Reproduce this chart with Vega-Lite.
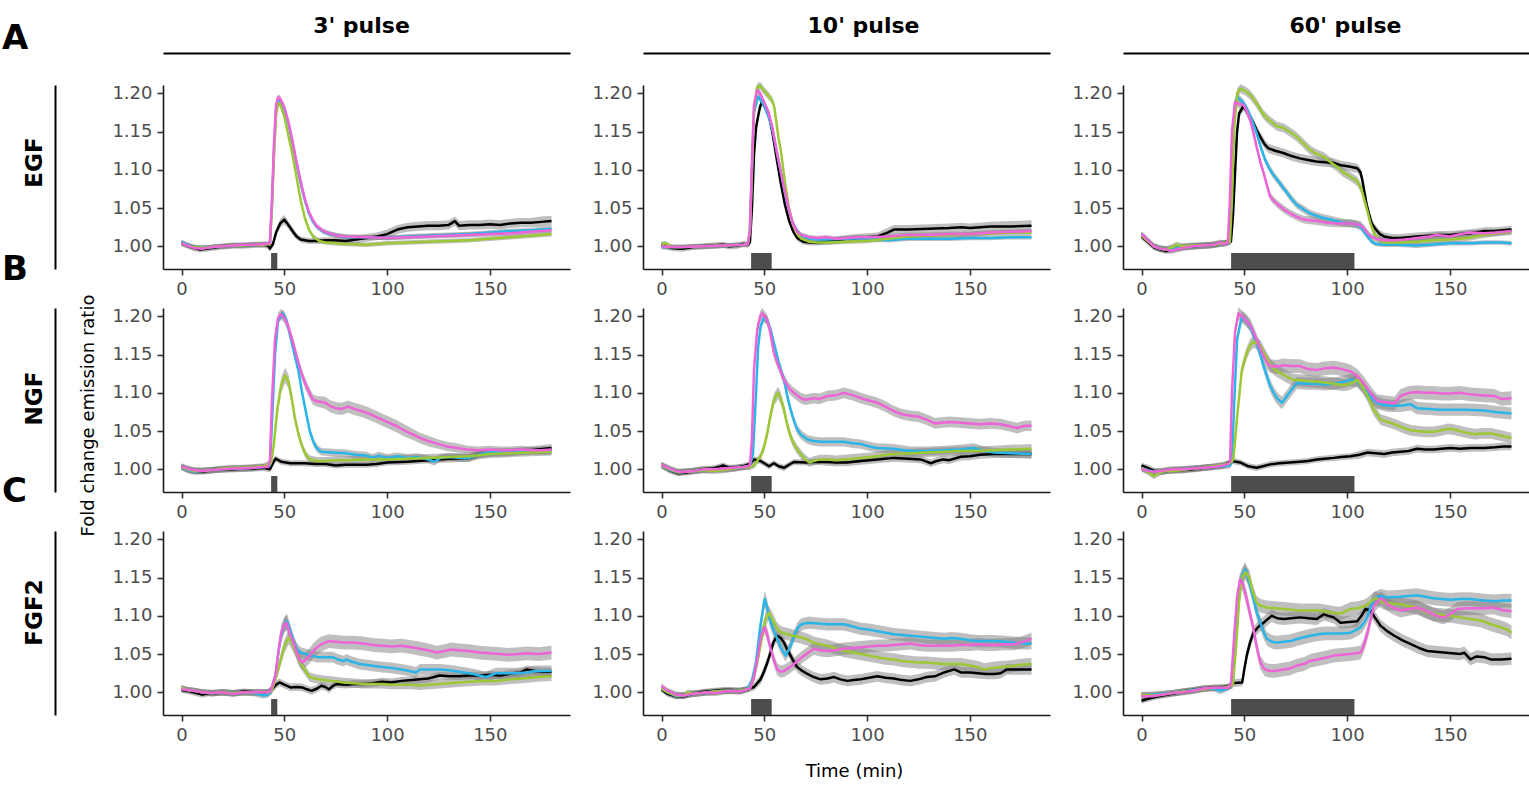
{
"$schema":"https://vega.github.io/schema/vega-lite/v6.json",
"padding":{"left":2,"top":14,"right":0,"bottom":0},
"config":{"view":{"stroke":null},"font":"DejaVu Sans",
"axis":{"domainColor":"#1a1a1a","domainWidth":1.6,"tickColor":"#333333","tickWidth":1.6,"tickSize":6,"labelFont":"DejaVu Sans","labelFontSize":18,"labelColor":"#4d4d4d","labelPadding":5,"titleFont":"DejaVu Sans","titleFontSize":18,"titleFontWeight":"normal","titleColor":"#000000","grid":false},
"title":{"font":"DejaVu Sans","fontSize":34,"fontWeight":"bold","anchor":"start","frame":"group","color":"#000000"}},
"datasets":{
"E3":[
{"s":"bk","t":0,"v":1.004,"e":0.004},{"s":"bk","t":3,"v":1.001,"e":0.004},{"s":"bk","t":6,"v":0.998,"e":0.004},{"s":"bk","t":9,"v":0.996,"e":0.004},{"s":"bk","t":12,"v":0.997,"e":0.004},{"s":"bk","t":15,"v":0.998,"e":0.004},{"s":"bk","t":20,"v":1.0,"e":0.004},{"s":"bk","t":25,"v":1.001,"e":0.004},{"s":"bk","t":30,"v":1.001,"e":0.004},{"s":"bk","t":35,"v":1.002,"e":0.004},{"s":"bk","t":40,"v":1.002,"e":0.004},{"s":"bk","t":42,"v":1.001,"e":0.004},{"s":"bk","t":43,"v":0.997,"e":0.004},{"s":"bk","t":44.5,"v":1.003,"e":0.004},{"s":"bk","t":46,"v":1.018,"e":0.005},{"s":"bk","t":48,"v":1.03,"e":0.006},{"s":"bk","t":50,"v":1.035,"e":0.006},{"s":"bk","t":52,"v":1.028,"e":0.005},{"s":"bk","t":54,"v":1.02,"e":0.005},{"s":"bk","t":56,"v":1.013,"e":0.004},{"s":"bk","t":58,"v":1.009,"e":0.004},{"s":"bk","t":62,"v":1.007,"e":0.004},{"s":"bk","t":66,"v":1.007,"e":0.004},{"s":"bk","t":70,"v":1.008,"e":0.004},{"s":"bk","t":75,"v":1.008,"e":0.004},{"s":"bk","t":80,"v":1.007,"e":0.005},{"s":"bk","t":85,"v":1.009,"e":0.005},{"s":"bk","t":90,"v":1.011,"e":0.005},{"s":"bk","t":95,"v":1.013,"e":0.005},{"s":"bk","t":100,"v":1.016,"e":0.006},{"s":"bk","t":105,"v":1.022,"e":0.006},{"s":"bk","t":110,"v":1.025,"e":0.006},{"s":"bk","t":115,"v":1.026,"e":0.006},{"s":"bk","t":120,"v":1.027,"e":0.006},{"s":"bk","t":125,"v":1.027,"e":0.006},{"s":"bk","t":130,"v":1.028,"e":0.006},{"s":"bk","t":133,"v":1.033,"e":0.006},{"s":"bk","t":135,"v":1.027,"e":0.006},{"s":"bk","t":140,"v":1.028,"e":0.006},{"s":"bk","t":145,"v":1.028,"e":0.006},{"s":"bk","t":150,"v":1.029,"e":0.006},{"s":"bk","t":155,"v":1.028,"e":0.006},{"s":"bk","t":160,"v":1.03,"e":0.006},{"s":"bk","t":165,"v":1.031,"e":0.006},{"s":"bk","t":170,"v":1.031,"e":0.006},{"s":"bk","t":175,"v":1.032,"e":0.007},{"s":"bk","t":180,"v":1.033,"e":0.007},
{"s":"cy","t":0,"v":1.006,"e":0.003},{"s":"cy","t":3,"v":1.002,"e":0.003},{"s":"cy","t":6,"v":0.999,"e":0.003},{"s":"cy","t":10,"v":0.998,"e":0.003},{"s":"cy","t":15,"v":0.999,"e":0.003},{"s":"cy","t":20,"v":1.0,"e":0.003},{"s":"cy","t":25,"v":1.001,"e":0.003},{"s":"cy","t":30,"v":1.001,"e":0.003},{"s":"cy","t":35,"v":1.002,"e":0.003},{"s":"cy","t":40,"v":1.003,"e":0.003},{"s":"cy","t":43,"v":1.003,"e":0.003},{"s":"cy","t":44,"v":1.055,"e":0.003},{"s":"cy","t":45,"v":1.125,"e":0.004},{"s":"cy","t":46,"v":1.178,"e":0.004},{"s":"cy","t":47,"v":1.19,"e":0.004},{"s":"cy","t":48,"v":1.189,"e":0.004},{"s":"cy","t":50,"v":1.178,"e":0.004},{"s":"cy","t":52,"v":1.16,"e":0.004},{"s":"cy","t":54,"v":1.135,"e":0.004},{"s":"cy","t":56,"v":1.107,"e":0.004},{"s":"cy","t":58,"v":1.082,"e":0.004},{"s":"cy","t":60,"v":1.06,"e":0.004},{"s":"cy","t":62,"v":1.043,"e":0.003},{"s":"cy","t":64,"v":1.032,"e":0.003},{"s":"cy","t":66,"v":1.025,"e":0.003},{"s":"cy","t":69,"v":1.019,"e":0.003},{"s":"cy","t":72,"v":1.016,"e":0.003},{"s":"cy","t":76,"v":1.014,"e":0.003},{"s":"cy","t":80,"v":1.012,"e":0.003},{"s":"cy","t":90,"v":1.012,"e":0.003},{"s":"cy","t":100,"v":1.011,"e":0.003},{"s":"cy","t":110,"v":1.013,"e":0.003},{"s":"cy","t":120,"v":1.014,"e":0.003},{"s":"cy","t":130,"v":1.015,"e":0.003},{"s":"cy","t":140,"v":1.016,"e":0.003},{"s":"cy","t":150,"v":1.018,"e":0.003},{"s":"cy","t":160,"v":1.02,"e":0.003},{"s":"cy","t":170,"v":1.021,"e":0.003},{"s":"cy","t":180,"v":1.023,"e":0.003},
{"s":"gr","t":0,"v":1.004,"e":0.003},{"s":"gr","t":3,"v":1.001,"e":0.003},{"s":"gr","t":6,"v":0.999,"e":0.003},{"s":"gr","t":10,"v":0.998,"e":0.003},{"s":"gr","t":15,"v":0.999,"e":0.003},{"s":"gr","t":20,"v":1.0,"e":0.003},{"s":"gr","t":25,"v":1.001,"e":0.003},{"s":"gr","t":30,"v":1.001,"e":0.003},{"s":"gr","t":35,"v":1.002,"e":0.003},{"s":"gr","t":40,"v":1.002,"e":0.003},{"s":"gr","t":43,"v":1.003,"e":0.003},{"s":"gr","t":44,"v":1.05,"e":0.003},{"s":"gr","t":45,"v":1.12,"e":0.004},{"s":"gr","t":46,"v":1.172,"e":0.004},{"s":"gr","t":47,"v":1.187,"e":0.004},{"s":"gr","t":48,"v":1.186,"e":0.004},{"s":"gr","t":50,"v":1.17,"e":0.004},{"s":"gr","t":52,"v":1.145,"e":0.004},{"s":"gr","t":54,"v":1.12,"e":0.004},{"s":"gr","t":56,"v":1.09,"e":0.004},{"s":"gr","t":58,"v":1.06,"e":0.004},{"s":"gr","t":60,"v":1.037,"e":0.003},{"s":"gr","t":62,"v":1.022,"e":0.003},{"s":"gr","t":64,"v":1.013,"e":0.003},{"s":"gr","t":67,"v":1.007,"e":0.003},{"s":"gr","t":70,"v":1.005,"e":0.003},{"s":"gr","t":75,"v":1.004,"e":0.003},{"s":"gr","t":80,"v":1.003,"e":0.003},{"s":"gr","t":90,"v":1.002,"e":0.003},{"s":"gr","t":100,"v":1.004,"e":0.003},{"s":"gr","t":110,"v":1.005,"e":0.003},{"s":"gr","t":120,"v":1.006,"e":0.003},{"s":"gr","t":130,"v":1.007,"e":0.003},{"s":"gr","t":140,"v":1.008,"e":0.003},{"s":"gr","t":150,"v":1.01,"e":0.003},{"s":"gr","t":160,"v":1.012,"e":0.003},{"s":"gr","t":170,"v":1.014,"e":0.003},{"s":"gr","t":180,"v":1.016,"e":0.003},
{"s":"pk","t":0,"v":1.004,"e":0.003},{"s":"pk","t":3,"v":1.001,"e":0.003},{"s":"pk","t":6,"v":0.998,"e":0.003},{"s":"pk","t":10,"v":0.997,"e":0.003},{"s":"pk","t":15,"v":0.999,"e":0.003},{"s":"pk","t":20,"v":1.0,"e":0.003},{"s":"pk","t":25,"v":1.001,"e":0.003},{"s":"pk","t":30,"v":1.002,"e":0.003},{"s":"pk","t":35,"v":1.002,"e":0.003},{"s":"pk","t":40,"v":1.003,"e":0.003},{"s":"pk","t":43,"v":1.004,"e":0.003},{"s":"pk","t":44,"v":1.06,"e":0.003},{"s":"pk","t":45,"v":1.135,"e":0.004},{"s":"pk","t":46,"v":1.185,"e":0.004},{"s":"pk","t":47,"v":1.195,"e":0.004},{"s":"pk","t":48,"v":1.193,"e":0.004},{"s":"pk","t":50,"v":1.182,"e":0.004},{"s":"pk","t":52,"v":1.163,"e":0.004},{"s":"pk","t":54,"v":1.138,"e":0.004},{"s":"pk","t":56,"v":1.11,"e":0.004},{"s":"pk","t":58,"v":1.085,"e":0.004},{"s":"pk","t":60,"v":1.062,"e":0.004},{"s":"pk","t":62,"v":1.045,"e":0.003},{"s":"pk","t":64,"v":1.034,"e":0.003},{"s":"pk","t":66,"v":1.026,"e":0.003},{"s":"pk","t":69,"v":1.02,"e":0.003},{"s":"pk","t":72,"v":1.017,"e":0.003},{"s":"pk","t":76,"v":1.014,"e":0.003},{"s":"pk","t":80,"v":1.013,"e":0.003},{"s":"pk","t":90,"v":1.012,"e":0.003},{"s":"pk","t":100,"v":1.011,"e":0.003},{"s":"pk","t":110,"v":1.012,"e":0.003},{"s":"pk","t":120,"v":1.013,"e":0.003},{"s":"pk","t":130,"v":1.014,"e":0.003},{"s":"pk","t":140,"v":1.015,"e":0.003},{"s":"pk","t":150,"v":1.016,"e":0.003},{"s":"pk","t":160,"v":1.017,"e":0.003},{"s":"pk","t":170,"v":1.019,"e":0.003},{"s":"pk","t":180,"v":1.021,"e":0.003}
],
"E10":[
{"s":"bk","t":0,"v":1.002,"e":0.004},{"s":"bk","t":5,"v":0.998,"e":0.004},{"s":"bk","t":10,"v":0.997,"e":0.004},{"s":"bk","t":15,"v":0.999,"e":0.004},{"s":"bk","t":20,"v":1.0,"e":0.004},{"s":"bk","t":25,"v":1.001,"e":0.004},{"s":"bk","t":30,"v":1.002,"e":0.004},{"s":"bk","t":33,"v":1.0,"e":0.004},{"s":"bk","t":37,"v":1.001,"e":0.004},{"s":"bk","t":40,"v":1.003,"e":0.004},{"s":"bk","t":42,"v":1.002,"e":0.004},{"s":"bk","t":43,"v":1.005,"e":0.004},{"s":"bk","t":44,"v":1.05,"e":0.004},{"s":"bk","t":45,"v":1.12,"e":0.005},{"s":"bk","t":46,"v":1.155,"e":0.005},{"s":"bk","t":47,"v":1.17,"e":0.005},{"s":"bk","t":48,"v":1.183,"e":0.005},{"s":"bk","t":49,"v":1.189,"e":0.005},{"s":"bk","t":50,"v":1.186,"e":0.005},{"s":"bk","t":52,"v":1.175,"e":0.005},{"s":"bk","t":54,"v":1.148,"e":0.005},{"s":"bk","t":56,"v":1.115,"e":0.005},{"s":"bk","t":58,"v":1.083,"e":0.005},{"s":"bk","t":60,"v":1.055,"e":0.005},{"s":"bk","t":62,"v":1.034,"e":0.004},{"s":"bk","t":64,"v":1.02,"e":0.004},{"s":"bk","t":66,"v":1.011,"e":0.004},{"s":"bk","t":69,"v":1.006,"e":0.004},{"s":"bk","t":72,"v":1.005,"e":0.004},{"s":"bk","t":76,"v":1.005,"e":0.004},{"s":"bk","t":80,"v":1.006,"e":0.004},{"s":"bk","t":85,"v":1.008,"e":0.005},{"s":"bk","t":90,"v":1.01,"e":0.005},{"s":"bk","t":95,"v":1.011,"e":0.005},{"s":"bk","t":100,"v":1.012,"e":0.005},{"s":"bk","t":105,"v":1.013,"e":0.005},{"s":"bk","t":110,"v":1.018,"e":0.006},{"s":"bk","t":113,"v":1.022,"e":0.006},{"s":"bk","t":120,"v":1.022,"e":0.006},{"s":"bk","t":130,"v":1.023,"e":0.006},{"s":"bk","t":140,"v":1.024,"e":0.006},{"s":"bk","t":146,"v":1.025,"e":0.006},{"s":"bk","t":150,"v":1.024,"e":0.006},{"s":"bk","t":160,"v":1.026,"e":0.006},{"s":"bk","t":170,"v":1.026,"e":0.007},{"s":"bk","t":180,"v":1.027,"e":0.007},
{"s":"cy","t":0,"v":0.999,"e":0.003},{"s":"cy","t":5,"v":0.999,"e":0.003},{"s":"cy","t":10,"v":0.999,"e":0.003},{"s":"cy","t":20,"v":1.0,"e":0.003},{"s":"cy","t":30,"v":1.001,"e":0.003},{"s":"cy","t":40,"v":1.002,"e":0.003},{"s":"cy","t":42,"v":1.003,"e":0.003},{"s":"cy","t":43,"v":1.02,"e":0.004},{"s":"cy","t":44,"v":1.1,"e":0.004},{"s":"cy","t":45,"v":1.175,"e":0.004},{"s":"cy","t":47,"v":1.196,"e":0.004},{"s":"cy","t":48.5,"v":1.19,"e":0.004},{"s":"cy","t":50,"v":1.183,"e":0.004},{"s":"cy","t":52,"v":1.17,"e":0.004},{"s":"cy","t":54,"v":1.152,"e":0.004},{"s":"cy","t":56,"v":1.125,"e":0.004},{"s":"cy","t":58,"v":1.098,"e":0.004},{"s":"cy","t":60,"v":1.07,"e":0.004},{"s":"cy","t":62,"v":1.047,"e":0.004},{"s":"cy","t":64,"v":1.03,"e":0.004},{"s":"cy","t":66,"v":1.02,"e":0.004},{"s":"cy","t":68,"v":1.014,"e":0.003},{"s":"cy","t":72,"v":1.01,"e":0.003},{"s":"cy","t":76,"v":1.009,"e":0.003},{"s":"cy","t":80,"v":1.009,"e":0.003},{"s":"cy","t":90,"v":1.01,"e":0.003},{"s":"cy","t":100,"v":1.011,"e":0.003},{"s":"cy","t":105,"v":1.009,"e":0.003},{"s":"cy","t":110,"v":1.008,"e":0.003},{"s":"cy","t":120,"v":1.01,"e":0.003},{"s":"cy","t":130,"v":1.01,"e":0.003},{"s":"cy","t":140,"v":1.01,"e":0.003},{"s":"cy","t":150,"v":1.011,"e":0.003},{"s":"cy","t":160,"v":1.011,"e":0.003},{"s":"cy","t":170,"v":1.012,"e":0.003},{"s":"cy","t":180,"v":1.012,"e":0.003},
{"s":"gr","t":0,"v":1.003,"e":0.003},{"s":"gr","t":2,"v":1.004,"e":0.003},{"s":"gr","t":5,"v":0.999,"e":0.003},{"s":"gr","t":10,"v":0.999,"e":0.003},{"s":"gr","t":20,"v":1.0,"e":0.003},{"s":"gr","t":30,"v":1.001,"e":0.003},{"s":"gr","t":40,"v":1.002,"e":0.003},{"s":"gr","t":42,"v":1.003,"e":0.003},{"s":"gr","t":43,"v":1.02,"e":0.004},{"s":"gr","t":44,"v":1.1,"e":0.004},{"s":"gr","t":45,"v":1.18,"e":0.005},{"s":"gr","t":46.5,"v":1.208,"e":0.005},{"s":"gr","t":48,"v":1.21,"e":0.005},{"s":"gr","t":50,"v":1.203,"e":0.005},{"s":"gr","t":52,"v":1.197,"e":0.005},{"s":"gr","t":54,"v":1.19,"e":0.005},{"s":"gr","t":55,"v":1.18,"e":0.005},{"s":"gr","t":56,"v":1.16,"e":0.005},{"s":"gr","t":57,"v":1.14,"e":0.005},{"s":"gr","t":58,"v":1.126,"e":0.005},{"s":"gr","t":60,"v":1.085,"e":0.005},{"s":"gr","t":62,"v":1.05,"e":0.004},{"s":"gr","t":64,"v":1.028,"e":0.004},{"s":"gr","t":66,"v":1.016,"e":0.004},{"s":"gr","t":68,"v":1.01,"e":0.003},{"s":"gr","t":72,"v":1.006,"e":0.003},{"s":"gr","t":76,"v":1.005,"e":0.003},{"s":"gr","t":80,"v":1.005,"e":0.003},{"s":"gr","t":90,"v":1.006,"e":0.003},{"s":"gr","t":100,"v":1.007,"e":0.003},{"s":"gr","t":110,"v":1.01,"e":0.003},{"s":"gr","t":120,"v":1.013,"e":0.003},{"s":"gr","t":130,"v":1.014,"e":0.003},{"s":"gr","t":140,"v":1.015,"e":0.003},{"s":"gr","t":150,"v":1.016,"e":0.003},{"s":"gr","t":160,"v":1.017,"e":0.003},{"s":"gr","t":170,"v":1.018,"e":0.003},{"s":"gr","t":180,"v":1.018,"e":0.003},
{"s":"pk","t":0,"v":1.0,"e":0.003},{"s":"pk","t":5,"v":0.999,"e":0.003},{"s":"pk","t":10,"v":0.999,"e":0.003},{"s":"pk","t":20,"v":1.0,"e":0.003},{"s":"pk","t":30,"v":1.001,"e":0.003},{"s":"pk","t":40,"v":1.002,"e":0.003},{"s":"pk","t":42,"v":1.003,"e":0.003},{"s":"pk","t":43,"v":1.02,"e":0.004},{"s":"pk","t":44,"v":1.11,"e":0.004},{"s":"pk","t":45,"v":1.185,"e":0.004},{"s":"pk","t":46.5,"v":1.204,"e":0.004},{"s":"pk","t":48,"v":1.2,"e":0.004},{"s":"pk","t":50,"v":1.188,"e":0.004},{"s":"pk","t":52,"v":1.175,"e":0.004},{"s":"pk","t":54,"v":1.155,"e":0.004},{"s":"pk","t":56,"v":1.125,"e":0.004},{"s":"pk","t":58,"v":1.098,"e":0.004},{"s":"pk","t":60,"v":1.072,"e":0.004},{"s":"pk","t":62,"v":1.048,"e":0.004},{"s":"pk","t":64,"v":1.029,"e":0.004},{"s":"pk","t":66,"v":1.019,"e":0.004},{"s":"pk","t":68,"v":1.015,"e":0.003},{"s":"pk","t":72,"v":1.012,"e":0.003},{"s":"pk","t":76,"v":1.011,"e":0.003},{"s":"pk","t":80,"v":1.012,"e":0.003},{"s":"pk","t":85,"v":1.01,"e":0.003},{"s":"pk","t":90,"v":1.011,"e":0.003},{"s":"pk","t":95,"v":1.012,"e":0.003},{"s":"pk","t":100,"v":1.012,"e":0.003},{"s":"pk","t":110,"v":1.013,"e":0.003},{"s":"pk","t":120,"v":1.015,"e":0.003},{"s":"pk","t":130,"v":1.015,"e":0.003},{"s":"pk","t":140,"v":1.016,"e":0.003},{"s":"pk","t":150,"v":1.016,"e":0.003},{"s":"pk","t":160,"v":1.018,"e":0.003},{"s":"pk","t":170,"v":1.019,"e":0.003},{"s":"pk","t":180,"v":1.02,"e":0.003}
],
"E60":[
{"s":"bk","t":0,"v":1.013,"e":0.004},{"s":"bk","t":3,"v":1.006,"e":0.004},{"s":"bk","t":6,"v":0.999,"e":0.004},{"s":"bk","t":9,"v":0.996,"e":0.004},{"s":"bk","t":12,"v":0.994,"e":0.004},{"s":"bk","t":15,"v":0.996,"e":0.004},{"s":"bk","t":20,"v":0.999,"e":0.004},{"s":"bk","t":25,"v":1.0,"e":0.004},{"s":"bk","t":30,"v":1.001,"e":0.004},{"s":"bk","t":35,"v":1.002,"e":0.004},{"s":"bk","t":40,"v":1.004,"e":0.004},{"s":"bk","t":43.5,"v":1.006,"e":0.004},{"s":"bk","t":44.5,"v":1.04,"e":0.005},{"s":"bk","t":45.5,"v":1.096,"e":0.006},{"s":"bk","t":46.5,"v":1.15,"e":0.006},{"s":"bk","t":47.5,"v":1.174,"e":0.006},{"s":"bk","t":49.6,"v":1.183,"e":0.006},{"s":"bk","t":51,"v":1.178,"e":0.006},{"s":"bk","t":52.5,"v":1.17,"e":0.006},{"s":"bk","t":54.5,"v":1.161,"e":0.006},{"s":"bk","t":56,"v":1.152,"e":0.006},{"s":"bk","t":57.8,"v":1.143,"e":0.006},{"s":"bk","t":60,"v":1.133,"e":0.006},{"s":"bk","t":61.8,"v":1.128,"e":0.006},{"s":"bk","t":65,"v":1.125,"e":0.006},{"s":"bk","t":69,"v":1.122,"e":0.006},{"s":"bk","t":73,"v":1.118,"e":0.006},{"s":"bk","t":77,"v":1.115,"e":0.006},{"s":"bk","t":81,"v":1.113,"e":0.006},{"s":"bk","t":85,"v":1.111,"e":0.006},{"s":"bk","t":89,"v":1.11,"e":0.006},{"s":"bk","t":93.5,"v":1.109,"e":0.006},{"s":"bk","t":97,"v":1.106,"e":0.006},{"s":"bk","t":101.7,"v":1.104,"e":0.006},{"s":"bk","t":105,"v":1.102,"e":0.006},{"s":"bk","t":106.5,"v":1.097,"e":0.006},{"s":"bk","t":107.4,"v":1.087,"e":0.006},{"s":"bk","t":108.5,"v":1.07,"e":0.006},{"s":"bk","t":109.5,"v":1.055,"e":0.006},{"s":"bk","t":110.6,"v":1.043,"e":0.006},{"s":"bk","t":112,"v":1.03,"e":0.005},{"s":"bk","t":114,"v":1.022,"e":0.005},{"s":"bk","t":116,"v":1.016,"e":0.005},{"s":"bk","t":118,"v":1.013,"e":0.005},{"s":"bk","t":122,"v":1.011,"e":0.005},{"s":"bk","t":126,"v":1.011,"e":0.005},{"s":"bk","t":130,"v":1.012,"e":0.005},{"s":"bk","t":134,"v":1.013,"e":0.005},{"s":"bk","t":140,"v":1.014,"e":0.005},{"s":"bk","t":145,"v":1.015,"e":0.005},{"s":"bk","t":150,"v":1.015,"e":0.005},{"s":"bk","t":155,"v":1.016,"e":0.005},{"s":"bk","t":160,"v":1.017,"e":0.005},{"s":"bk","t":166.7,"v":1.02,"e":0.005},{"s":"bk","t":172,"v":1.02,"e":0.005},{"s":"bk","t":180,"v":1.022,"e":0.005},
{"s":"cy","t":0,"v":1.015,"e":0.004},{"s":"cy","t":3,"v":1.008,"e":0.004},{"s":"cy","t":6,"v":1.0,"e":0.004},{"s":"cy","t":9,"v":0.997,"e":0.004},{"s":"cy","t":12,"v":0.996,"e":0.004},{"s":"cy","t":15,"v":0.997,"e":0.004},{"s":"cy","t":20,"v":0.999,"e":0.004},{"s":"cy","t":25,"v":1.0,"e":0.004},{"s":"cy","t":30,"v":1.001,"e":0.004},{"s":"cy","t":35,"v":1.002,"e":0.004},{"s":"cy","t":40,"v":1.004,"e":0.004},{"s":"cy","t":42.5,"v":1.005,"e":0.004},{"s":"cy","t":43.5,"v":1.05,"e":0.004},{"s":"cy","t":44.5,"v":1.14,"e":0.005},{"s":"cy","t":45.5,"v":1.185,"e":0.005},{"s":"cy","t":46.4,"v":1.196,"e":0.005},{"s":"cy","t":48,"v":1.192,"e":0.005},{"s":"cy","t":50,"v":1.186,"e":0.005},{"s":"cy","t":52,"v":1.176,"e":0.005},{"s":"cy","t":54,"v":1.163,"e":0.005},{"s":"cy","t":56,"v":1.148,"e":0.005},{"s":"cy","t":58,"v":1.13,"e":0.005},{"s":"cy","t":60,"v":1.114,"e":0.005},{"s":"cy","t":62,"v":1.103,"e":0.005},{"s":"cy","t":64,"v":1.094,"e":0.005},{"s":"cy","t":66,"v":1.087,"e":0.005},{"s":"cy","t":68,"v":1.08,"e":0.005},{"s":"cy","t":70.8,"v":1.07,"e":0.005},{"s":"cy","t":73,"v":1.062,"e":0.005},{"s":"cy","t":75.6,"v":1.054,"e":0.005},{"s":"cy","t":79,"v":1.048,"e":0.005},{"s":"cy","t":82,"v":1.043,"e":0.005},{"s":"cy","t":85,"v":1.04,"e":0.005},{"s":"cy","t":88.7,"v":1.037,"e":0.005},{"s":"cy","t":92,"v":1.035,"e":0.005},{"s":"cy","t":95,"v":1.033,"e":0.005},{"s":"cy","t":98,"v":1.031,"e":0.005},{"s":"cy","t":101.7,"v":1.03,"e":0.005},{"s":"cy","t":104,"v":1.029,"e":0.005},{"s":"cy","t":106.5,"v":1.026,"e":0.005},{"s":"cy","t":108,"v":1.02,"e":0.004},{"s":"cy","t":110,"v":1.013,"e":0.004},{"s":"cy","t":112,"v":1.006,"e":0.003},{"s":"cy","t":114,"v":1.003,"e":0.003},{"s":"cy","t":118,"v":1.002,"e":0.003},{"s":"cy","t":125,"v":1.002,"e":0.003},{"s":"cy","t":134,"v":1.001,"e":0.003},{"s":"cy","t":140,"v":1.002,"e":0.003},{"s":"cy","t":150,"v":1.004,"e":0.003},{"s":"cy","t":160,"v":1.004,"e":0.003},{"s":"cy","t":166.7,"v":1.005,"e":0.003},{"s":"cy","t":175,"v":1.005,"e":0.003},{"s":"cy","t":180,"v":1.004,"e":0.003},
{"s":"gr","t":0,"v":1.014,"e":0.004},{"s":"gr","t":3,"v":1.007,"e":0.004},{"s":"gr","t":6,"v":1.0,"e":0.004},{"s":"gr","t":9,"v":0.997,"e":0.004},{"s":"gr","t":12,"v":0.996,"e":0.004},{"s":"gr","t":15,"v":0.999,"e":0.004},{"s":"gr","t":17,"v":1.002,"e":0.004},{"s":"gr","t":20,"v":1.0,"e":0.004},{"s":"gr","t":25,"v":1.001,"e":0.004},{"s":"gr","t":30,"v":1.001,"e":0.004},{"s":"gr","t":35,"v":1.002,"e":0.004},{"s":"gr","t":40,"v":1.004,"e":0.004},{"s":"gr","t":43,"v":1.006,"e":0.004},{"s":"gr","t":44,"v":1.06,"e":0.005},{"s":"gr","t":45,"v":1.15,"e":0.006},{"s":"gr","t":46.5,"v":1.2,"e":0.006},{"s":"gr","t":48,"v":1.206,"e":0.006},{"s":"gr","t":50,"v":1.204,"e":0.006},{"s":"gr","t":52.9,"v":1.198,"e":0.006},{"s":"gr","t":56,"v":1.187,"e":0.006},{"s":"gr","t":59.4,"v":1.172,"e":0.006},{"s":"gr","t":62,"v":1.165,"e":0.006},{"s":"gr","t":65.9,"v":1.157,"e":0.006},{"s":"gr","t":69,"v":1.155,"e":0.006},{"s":"gr","t":72,"v":1.15,"e":0.006},{"s":"gr","t":75.6,"v":1.143,"e":0.006},{"s":"gr","t":79,"v":1.134,"e":0.006},{"s":"gr","t":82,"v":1.126,"e":0.006},{"s":"gr","t":85,"v":1.121,"e":0.006},{"s":"gr","t":88.7,"v":1.117,"e":0.006},{"s":"gr","t":92,"v":1.11,"e":0.006},{"s":"gr","t":95.2,"v":1.104,"e":0.006},{"s":"gr","t":98,"v":1.097,"e":0.006},{"s":"gr","t":101.7,"v":1.091,"e":0.006},{"s":"gr","t":105,"v":1.085,"e":0.006},{"s":"gr","t":107,"v":1.075,"e":0.006},{"s":"gr","t":108,"v":1.065,"e":0.006},{"s":"gr","t":110,"v":1.045,"e":0.006},{"s":"gr","t":111.4,"v":1.03,"e":0.005},{"s":"gr","t":113,"v":1.018,"e":0.005},{"s":"gr","t":114.7,"v":1.011,"e":0.004},{"s":"gr","t":118,"v":1.005,"e":0.004},{"s":"gr","t":125,"v":1.005,"e":0.004},{"s":"gr","t":134,"v":1.006,"e":0.004},{"s":"gr","t":142,"v":1.008,"e":0.004},{"s":"gr","t":150,"v":1.009,"e":0.004},{"s":"gr","t":158.6,"v":1.011,"e":0.004},{"s":"gr","t":166.7,"v":1.015,"e":0.004},{"s":"gr","t":172,"v":1.017,"e":0.004},{"s":"gr","t":180,"v":1.019,"e":0.004},
{"s":"pk","t":0,"v":1.016,"e":0.004},{"s":"pk","t":3,"v":1.008,"e":0.004},{"s":"pk","t":6,"v":1.0,"e":0.004},{"s":"pk","t":9,"v":0.997,"e":0.004},{"s":"pk","t":12,"v":0.996,"e":0.004},{"s":"pk","t":14,"v":0.994,"e":0.004},{"s":"pk","t":17,"v":0.996,"e":0.004},{"s":"pk","t":20,"v":0.998,"e":0.004},{"s":"pk","t":25,"v":1.0,"e":0.004},{"s":"pk","t":30,"v":1.001,"e":0.004},{"s":"pk","t":35,"v":1.002,"e":0.004},{"s":"pk","t":38,"v":1.005,"e":0.004},{"s":"pk","t":40,"v":1.003,"e":0.004},{"s":"pk","t":42,"v":1.005,"e":0.004},{"s":"pk","t":43,"v":1.06,"e":0.005},{"s":"pk","t":44,"v":1.15,"e":0.005},{"s":"pk","t":45.5,"v":1.189,"e":0.005},{"s":"pk","t":47,"v":1.186,"e":0.005},{"s":"pk","t":49.6,"v":1.185,"e":0.005},{"s":"pk","t":51,"v":1.178,"e":0.005},{"s":"pk","t":52.9,"v":1.165,"e":0.005},{"s":"pk","t":54.5,"v":1.148,"e":0.005},{"s":"pk","t":56,"v":1.13,"e":0.005},{"s":"pk","t":58,"v":1.108,"e":0.005},{"s":"pk","t":59.4,"v":1.096,"e":0.005},{"s":"pk","t":61,"v":1.08,"e":0.005},{"s":"pk","t":62.6,"v":1.065,"e":0.005},{"s":"pk","t":65,"v":1.058,"e":0.005},{"s":"pk","t":67.5,"v":1.052,"e":0.005},{"s":"pk","t":70,"v":1.047,"e":0.005},{"s":"pk","t":72.4,"v":1.043,"e":0.005},{"s":"pk","t":76,"v":1.038,"e":0.005},{"s":"pk","t":79,"v":1.035,"e":0.005},{"s":"pk","t":85.4,"v":1.033,"e":0.005},{"s":"pk","t":90,"v":1.031,"e":0.005},{"s":"pk","t":95,"v":1.03,"e":0.005},{"s":"pk","t":101.7,"v":1.03,"e":0.005},{"s":"pk","t":106.5,"v":1.028,"e":0.005},{"s":"pk","t":108,"v":1.024,"e":0.005},{"s":"pk","t":110,"v":1.017,"e":0.005},{"s":"pk","t":112,"v":1.012,"e":0.004},{"s":"pk","t":114.7,"v":1.0096,"e":0.004},{"s":"pk","t":118,"v":1.008,"e":0.004},{"s":"pk","t":123,"v":1.008,"e":0.004},{"s":"pk","t":128,"v":1.009,"e":0.004},{"s":"pk","t":134,"v":1.011,"e":0.004},{"s":"pk","t":140,"v":1.013,"e":0.004},{"s":"pk","t":144,"v":1.015,"e":0.004},{"s":"pk","t":150,"v":1.013,"e":0.004},{"s":"pk","t":155,"v":1.016,"e":0.004},{"s":"pk","t":160,"v":1.018,"e":0.004},{"s":"pk","t":166.7,"v":1.017,"e":0.004},{"s":"pk","t":172,"v":1.018,"e":0.004},{"s":"pk","t":180,"v":1.02,"e":0.004}
],
"N3":[
{"s":"bk","t":0,"v":1.003,"e":0.004},{"s":"bk","t":3,"v":1.0,"e":0.004},{"s":"bk","t":6,"v":0.998,"e":0.004},{"s":"bk","t":10,"v":0.997,"e":0.004},{"s":"bk","t":15,"v":0.999,"e":0.004},{"s":"bk","t":20,"v":1.0,"e":0.004},{"s":"bk","t":25,"v":1.0,"e":0.004},{"s":"bk","t":30,"v":1.001,"e":0.004},{"s":"bk","t":35,"v":1.001,"e":0.004},{"s":"bk","t":40,"v":1.002,"e":0.004},{"s":"bk","t":43,"v":1.0,"e":0.004},{"s":"bk","t":44.5,"v":1.008,"e":0.004},{"s":"bk","t":45.7,"v":1.014,"e":0.004},{"s":"bk","t":48.5,"v":1.01,"e":0.004},{"s":"bk","t":53,"v":1.008,"e":0.004},{"s":"bk","t":60,"v":1.008,"e":0.004},{"s":"bk","t":65,"v":1.007,"e":0.004},{"s":"bk","t":70,"v":1.007,"e":0.004},{"s":"bk","t":75,"v":1.005,"e":0.004},{"s":"bk","t":80,"v":1.006,"e":0.004},{"s":"bk","t":85,"v":1.006,"e":0.004},{"s":"bk","t":90,"v":1.006,"e":0.004},{"s":"bk","t":95,"v":1.007,"e":0.004},{"s":"bk","t":100,"v":1.009,"e":0.004},{"s":"bk","t":110,"v":1.01,"e":0.004},{"s":"bk","t":120,"v":1.012,"e":0.004},{"s":"bk","t":130,"v":1.014,"e":0.005},{"s":"bk","t":140,"v":1.015,"e":0.005},{"s":"bk","t":145,"v":1.02,"e":0.005},{"s":"bk","t":150,"v":1.021,"e":0.005},{"s":"bk","t":160,"v":1.022,"e":0.005},{"s":"bk","t":170,"v":1.025,"e":0.005},{"s":"bk","t":180,"v":1.028,"e":0.005},
{"s":"cy","t":0,"v":1.003,"e":0.004},{"s":"cy","t":3,"v":0.999,"e":0.004},{"s":"cy","t":6,"v":0.997,"e":0.004},{"s":"cy","t":10,"v":0.998,"e":0.004},{"s":"cy","t":15,"v":0.999,"e":0.004},{"s":"cy","t":20,"v":1.0,"e":0.004},{"s":"cy","t":25,"v":1.001,"e":0.004},{"s":"cy","t":30,"v":1.001,"e":0.004},{"s":"cy","t":35,"v":1.002,"e":0.004},{"s":"cy","t":40,"v":1.003,"e":0.004},{"s":"cy","t":43,"v":1.005,"e":0.004},{"s":"cy","t":44,"v":1.06,"e":0.005},{"s":"cy","t":45.5,"v":1.15,"e":0.005},{"s":"cy","t":47,"v":1.195,"e":0.005},{"s":"cy","t":49.4,"v":1.204,"e":0.005},{"s":"cy","t":51,"v":1.195,"e":0.005},{"s":"cy","t":53,"v":1.173,"e":0.005},{"s":"cy","t":55,"v":1.15,"e":0.005},{"s":"cy","t":56.8,"v":1.13,"e":0.005},{"s":"cy","t":58.7,"v":1.1,"e":0.005},{"s":"cy","t":60.6,"v":1.074,"e":0.005},{"s":"cy","t":62.4,"v":1.05,"e":0.005},{"s":"cy","t":64.3,"v":1.035,"e":0.005},{"s":"cy","t":66,"v":1.027,"e":0.005},{"s":"cy","t":68,"v":1.023,"e":0.005},{"s":"cy","t":73.6,"v":1.022,"e":0.005},{"s":"cy","t":80,"v":1.021,"e":0.005},{"s":"cy","t":85,"v":1.019,"e":0.005},{"s":"cy","t":90,"v":1.018,"e":0.005},{"s":"cy","t":93,"v":1.015,"e":0.005},{"s":"cy","t":96,"v":1.018,"e":0.005},{"s":"cy","t":100,"v":1.015,"e":0.005},{"s":"cy","t":105,"v":1.017,"e":0.005},{"s":"cy","t":110,"v":1.015,"e":0.005},{"s":"cy","t":115,"v":1.016,"e":0.005},{"s":"cy","t":120,"v":1.013,"e":0.005},{"s":"cy","t":123,"v":1.01,"e":0.005},{"s":"cy","t":126,"v":1.015,"e":0.005},{"s":"cy","t":130,"v":1.016,"e":0.005},{"s":"cy","t":135,"v":1.015,"e":0.005},{"s":"cy","t":140,"v":1.015,"e":0.005},{"s":"cy","t":145,"v":1.02,"e":0.005},{"s":"cy","t":150,"v":1.022,"e":0.005},{"s":"cy","t":155,"v":1.023,"e":0.005},{"s":"cy","t":160,"v":1.023,"e":0.005},{"s":"cy","t":170,"v":1.024,"e":0.005},{"s":"cy","t":180,"v":1.024,"e":0.005},
{"s":"gr","t":0,"v":1.003,"e":0.004},{"s":"gr","t":3,"v":1.0,"e":0.004},{"s":"gr","t":6,"v":0.998,"e":0.004},{"s":"gr","t":10,"v":0.998,"e":0.004},{"s":"gr","t":15,"v":0.999,"e":0.004},{"s":"gr","t":20,"v":1.001,"e":0.004},{"s":"gr","t":25,"v":1.002,"e":0.004},{"s":"gr","t":30,"v":1.002,"e":0.004},{"s":"gr","t":35,"v":1.003,"e":0.004},{"s":"gr","t":40,"v":1.004,"e":0.004},{"s":"gr","t":43.5,"v":1.008,"e":0.005},{"s":"gr","t":44.8,"v":1.03,"e":0.007},{"s":"gr","t":46.6,"v":1.078,"e":0.009},{"s":"gr","t":48.5,"v":1.11,"e":0.01},{"s":"gr","t":50.4,"v":1.123,"e":0.01},{"s":"gr","t":52,"v":1.115,"e":0.009},{"s":"gr","t":53.5,"v":1.095,"e":0.008},{"s":"gr","t":55,"v":1.069,"e":0.007},{"s":"gr","t":57,"v":1.045,"e":0.006},{"s":"gr","t":58.7,"v":1.03,"e":0.005},{"s":"gr","t":60.5,"v":1.019,"e":0.005},{"s":"gr","t":62.4,"v":1.013,"e":0.005},{"s":"gr","t":66,"v":1.011,"e":0.005},{"s":"gr","t":70,"v":1.011,"e":0.005},{"s":"gr","t":75,"v":1.012,"e":0.005},{"s":"gr","t":80,"v":1.012,"e":0.005},{"s":"gr","t":90,"v":1.013,"e":0.005},{"s":"gr","t":100,"v":1.013,"e":0.005},{"s":"gr","t":110,"v":1.014,"e":0.005},{"s":"gr","t":120,"v":1.015,"e":0.005},{"s":"gr","t":130,"v":1.016,"e":0.005},{"s":"gr","t":140,"v":1.017,"e":0.005},{"s":"gr","t":150,"v":1.02,"e":0.005},{"s":"gr","t":160,"v":1.021,"e":0.005},{"s":"gr","t":170,"v":1.022,"e":0.005},{"s":"gr","t":180,"v":1.023,"e":0.005},
{"s":"pk","t":0,"v":1.004,"e":0.004},{"s":"pk","t":3,"v":1.001,"e":0.004},{"s":"pk","t":6,"v":0.999,"e":0.004},{"s":"pk","t":10,"v":0.998,"e":0.004},{"s":"pk","t":15,"v":0.999,"e":0.004},{"s":"pk","t":20,"v":1.0,"e":0.004},{"s":"pk","t":25,"v":1.001,"e":0.004},{"s":"pk","t":30,"v":1.001,"e":0.004},{"s":"pk","t":35,"v":1.002,"e":0.004},{"s":"pk","t":40,"v":1.003,"e":0.004},{"s":"pk","t":42,"v":1.003,"e":0.004},{"s":"pk","t":43,"v":1.01,"e":0.005},{"s":"pk","t":44,"v":1.09,"e":0.006},{"s":"pk","t":45.5,"v":1.17,"e":0.007},{"s":"pk","t":47,"v":1.198,"e":0.007},{"s":"pk","t":48.5,"v":1.203,"e":0.007},{"s":"pk","t":50,"v":1.198,"e":0.007},{"s":"pk","t":51.5,"v":1.19,"e":0.007},{"s":"pk","t":53,"v":1.177,"e":0.007},{"s":"pk","t":55,"v":1.158,"e":0.007},{"s":"pk","t":57,"v":1.138,"e":0.007},{"s":"pk","t":58.7,"v":1.123,"e":0.007},{"s":"pk","t":60.5,"v":1.11,"e":0.007},{"s":"pk","t":62.4,"v":1.099,"e":0.007},{"s":"pk","t":64,"v":1.091,"e":0.007},{"s":"pk","t":66,"v":1.089,"e":0.007},{"s":"pk","t":70,"v":1.087,"e":0.008},{"s":"pk","t":72,"v":1.083,"e":0.008},{"s":"pk","t":75,"v":1.08,"e":0.008},{"s":"pk","t":78,"v":1.079,"e":0.008},{"s":"pk","t":81,"v":1.082,"e":0.008},{"s":"pk","t":84,"v":1.079,"e":0.008},{"s":"pk","t":88,"v":1.076,"e":0.008},{"s":"pk","t":92,"v":1.072,"e":0.008},{"s":"pk","t":96,"v":1.067,"e":0.008},{"s":"pk","t":100,"v":1.062,"e":0.008},{"s":"pk","t":105,"v":1.056,"e":0.008},{"s":"pk","t":109,"v":1.05,"e":0.008},{"s":"pk","t":113,"v":1.045,"e":0.007},{"s":"pk","t":116,"v":1.041,"e":0.007},{"s":"pk","t":120,"v":1.037,"e":0.007},{"s":"pk","t":125,"v":1.033,"e":0.006},{"s":"pk","t":129,"v":1.03,"e":0.006},{"s":"pk","t":134,"v":1.028,"e":0.006},{"s":"pk","t":139,"v":1.026,"e":0.005},{"s":"pk","t":144,"v":1.025,"e":0.005},{"s":"pk","t":150,"v":1.026,"e":0.005},{"s":"pk","t":155,"v":1.025,"e":0.005},{"s":"pk","t":160,"v":1.025,"e":0.005},{"s":"pk","t":165,"v":1.026,"e":0.005},{"s":"pk","t":170,"v":1.025,"e":0.005},{"s":"pk","t":175,"v":1.025,"e":0.005},{"s":"pk","t":180,"v":1.026,"e":0.005}
],
"N10":[
{"s":"bk","t":0,"v":1.005,"e":0.004},{"s":"bk","t":4,"v":0.999,"e":0.004},{"s":"bk","t":8,"v":0.995,"e":0.004},{"s":"bk","t":12,"v":0.996,"e":0.004},{"s":"bk","t":16,"v":0.998,"e":0.004},{"s":"bk","t":20,"v":1.0,"e":0.004},{"s":"bk","t":25,"v":1.001,"e":0.004},{"s":"bk","t":30,"v":1.005,"e":0.004},{"s":"bk","t":33,"v":1.002,"e":0.004},{"s":"bk","t":36,"v":1.002,"e":0.004},{"s":"bk","t":40,"v":1.004,"e":0.004},{"s":"bk","t":43,"v":1.007,"e":0.004},{"s":"bk","t":45,"v":1.013,"e":0.004},{"s":"bk","t":48,"v":1.011,"e":0.004},{"s":"bk","t":50,"v":1.008,"e":0.004},{"s":"bk","t":52.3,"v":1.004,"e":0.004},{"s":"bk","t":54.7,"v":1.008,"e":0.004},{"s":"bk","t":57,"v":1.004,"e":0.004},{"s":"bk","t":59.6,"v":1.002,"e":0.004},{"s":"bk","t":62,"v":1.006,"e":0.004},{"s":"bk","t":64.4,"v":1.0096,"e":0.004},{"s":"bk","t":70,"v":1.009,"e":0.004},{"s":"bk","t":75,"v":1.01,"e":0.004},{"s":"bk","t":80.7,"v":1.0096,"e":0.005},{"s":"bk","t":85,"v":1.009,"e":0.005},{"s":"bk","t":90,"v":1.009,"e":0.005},{"s":"bk","t":97,"v":1.011,"e":0.005},{"s":"bk","t":105,"v":1.013,"e":0.005},{"s":"bk","t":113,"v":1.015,"e":0.005},{"s":"bk","t":120,"v":1.014,"e":0.005},{"s":"bk","t":126,"v":1.013,"e":0.005},{"s":"bk","t":129,"v":1.01,"e":0.005},{"s":"bk","t":131,"v":1.008,"e":0.005},{"s":"bk","t":134,"v":1.011,"e":0.005},{"s":"bk","t":137,"v":1.013,"e":0.005},{"s":"bk","t":140,"v":1.012,"e":0.005},{"s":"bk","t":145.6,"v":1.0165,"e":0.005},{"s":"bk","t":150,"v":1.017,"e":0.005},{"s":"bk","t":155,"v":1.019,"e":0.005},{"s":"bk","t":162,"v":1.02,"e":0.005},{"s":"bk","t":170,"v":1.02,"e":0.005},{"s":"bk","t":180,"v":1.02,"e":0.005},
{"s":"cy","t":0,"v":1.005,"e":0.004},{"s":"cy","t":4,"v":0.999,"e":0.004},{"s":"cy","t":8,"v":0.996,"e":0.004},{"s":"cy","t":12,"v":0.997,"e":0.004},{"s":"cy","t":16,"v":0.998,"e":0.004},{"s":"cy","t":20,"v":0.999,"e":0.004},{"s":"cy","t":25,"v":1.0,"e":0.004},{"s":"cy","t":30,"v":1.0,"e":0.004},{"s":"cy","t":35,"v":1.001,"e":0.004},{"s":"cy","t":40,"v":1.003,"e":0.004},{"s":"cy","t":43,"v":1.004,"e":0.004},{"s":"cy","t":44.5,"v":1.02,"e":0.005},{"s":"cy","t":46,"v":1.1,"e":0.006},{"s":"cy","t":47,"v":1.16,"e":0.006},{"s":"cy","t":48.2,"v":1.187,"e":0.006},{"s":"cy","t":49.8,"v":1.198,"e":0.006},{"s":"cy","t":51.5,"v":1.195,"e":0.006},{"s":"cy","t":53,"v":1.183,"e":0.006},{"s":"cy","t":54.7,"v":1.165,"e":0.006},{"s":"cy","t":57,"v":1.14,"e":0.006},{"s":"cy","t":59.6,"v":1.117,"e":0.006},{"s":"cy","t":61,"v":1.098,"e":0.006},{"s":"cy","t":62.8,"v":1.078,"e":0.006},{"s":"cy","t":64.4,"v":1.064,"e":0.006},{"s":"cy","t":66,"v":1.052,"e":0.006},{"s":"cy","t":68,"v":1.045,"e":0.006},{"s":"cy","t":71,"v":1.039,"e":0.006},{"s":"cy","t":74,"v":1.037,"e":0.006},{"s":"cy","t":77.4,"v":1.036,"e":0.006},{"s":"cy","t":82,"v":1.036,"e":0.006},{"s":"cy","t":88.8,"v":1.036,"e":0.006},{"s":"cy","t":93,"v":1.034,"e":0.006},{"s":"cy","t":97,"v":1.033,"e":0.006},{"s":"cy","t":101,"v":1.03,"e":0.006},{"s":"cy","t":105,"v":1.028,"e":0.006},{"s":"cy","t":113,"v":1.027,"e":0.006},{"s":"cy","t":121,"v":1.024,"e":0.006},{"s":"cy","t":129,"v":1.024,"e":0.006},{"s":"cy","t":137.5,"v":1.025,"e":0.006},{"s":"cy","t":145,"v":1.026,"e":0.006},{"s":"cy","t":152,"v":1.028,"e":0.006},{"s":"cy","t":157,"v":1.024,"e":0.006},{"s":"cy","t":162,"v":1.022,"e":0.006},{"s":"cy","t":170,"v":1.021,"e":0.006},{"s":"cy","t":180,"v":1.02,"e":0.006},
{"s":"gr","t":0,"v":1.005,"e":0.004},{"s":"gr","t":4,"v":1.0,"e":0.004},{"s":"gr","t":8,"v":0.996,"e":0.004},{"s":"gr","t":12,"v":0.997,"e":0.004},{"s":"gr","t":16,"v":0.998,"e":0.004},{"s":"gr","t":20,"v":0.999,"e":0.004},{"s":"gr","t":25,"v":0.998,"e":0.004},{"s":"gr","t":30,"v":0.999,"e":0.004},{"s":"gr","t":35,"v":1.001,"e":0.004},{"s":"gr","t":40,"v":1.003,"e":0.004},{"s":"gr","t":43,"v":1.003,"e":0.004},{"s":"gr","t":45,"v":1.005,"e":0.004},{"s":"gr","t":48.2,"v":1.017,"e":0.005},{"s":"gr","t":50,"v":1.03,"e":0.006},{"s":"gr","t":51.5,"v":1.048,"e":0.007},{"s":"gr","t":53,"v":1.07,"e":0.008},{"s":"gr","t":54.7,"v":1.091,"e":0.008},{"s":"gr","t":56.7,"v":1.1,"e":0.008},{"s":"gr","t":58,"v":1.093,"e":0.008},{"s":"gr","t":59.6,"v":1.078,"e":0.007},{"s":"gr","t":61,"v":1.06,"e":0.007},{"s":"gr","t":62.8,"v":1.043,"e":0.006},{"s":"gr","t":64.4,"v":1.033,"e":0.006},{"s":"gr","t":66,"v":1.026,"e":0.006},{"s":"gr","t":68,"v":1.019,"e":0.006},{"s":"gr","t":70,"v":1.013,"e":0.006},{"s":"gr","t":72,"v":1.009,"e":0.006},{"s":"gr","t":74,"v":1.011,"e":0.006},{"s":"gr","t":77,"v":1.013,"e":0.006},{"s":"gr","t":80.7,"v":1.013,"e":0.006},{"s":"gr","t":85,"v":1.012,"e":0.006},{"s":"gr","t":88.8,"v":1.013,"e":0.006},{"s":"gr","t":93,"v":1.014,"e":0.006},{"s":"gr","t":97,"v":1.015,"e":0.006},{"s":"gr","t":101,"v":1.016,"e":0.006},{"s":"gr","t":105,"v":1.017,"e":0.006},{"s":"gr","t":109,"v":1.019,"e":0.006},{"s":"gr","t":113,"v":1.02,"e":0.006},{"s":"gr","t":121,"v":1.021,"e":0.006},{"s":"gr","t":129,"v":1.022,"e":0.006},{"s":"gr","t":137,"v":1.023,"e":0.006},{"s":"gr","t":145.6,"v":1.024,"e":0.006},{"s":"gr","t":153,"v":1.024,"e":0.006},{"s":"gr","t":162,"v":1.025,"e":0.006},{"s":"gr","t":170,"v":1.026,"e":0.006},{"s":"gr","t":180,"v":1.027,"e":0.006},
{"s":"pk","t":0,"v":1.006,"e":0.004},{"s":"pk","t":4,"v":1.001,"e":0.004},{"s":"pk","t":8,"v":0.997,"e":0.004},{"s":"pk","t":12,"v":0.997,"e":0.004},{"s":"pk","t":16,"v":0.998,"e":0.004},{"s":"pk","t":20,"v":1.0,"e":0.004},{"s":"pk","t":25,"v":1.0,"e":0.004},{"s":"pk","t":30,"v":1.001,"e":0.004},{"s":"pk","t":35,"v":1.002,"e":0.004},{"s":"pk","t":40,"v":1.003,"e":0.004},{"s":"pk","t":43,"v":1.005,"e":0.004},{"s":"pk","t":44,"v":1.04,"e":0.005},{"s":"pk","t":45,"v":1.13,"e":0.006},{"s":"pk","t":46.6,"v":1.183,"e":0.007},{"s":"pk","t":48,"v":1.2,"e":0.007},{"s":"pk","t":49,"v":1.204,"e":0.007},{"s":"pk","t":51,"v":1.197,"e":0.007},{"s":"pk","t":52.5,"v":1.185,"e":0.007},{"s":"pk","t":54.7,"v":1.152,"e":0.007},{"s":"pk","t":57,"v":1.135,"e":0.007},{"s":"pk","t":59.6,"v":1.117,"e":0.007},{"s":"pk","t":62,"v":1.106,"e":0.007},{"s":"pk","t":64.4,"v":1.1,"e":0.007},{"s":"pk","t":67.7,"v":1.093,"e":0.007},{"s":"pk","t":70,"v":1.091,"e":0.007},{"s":"pk","t":74,"v":1.093,"e":0.007},{"s":"pk","t":77,"v":1.092,"e":0.007},{"s":"pk","t":80.7,"v":1.096,"e":0.007},{"s":"pk","t":85,"v":1.097,"e":0.007},{"s":"pk","t":88.8,"v":1.1,"e":0.007},{"s":"pk","t":93,"v":1.097,"e":0.007},{"s":"pk","t":97,"v":1.093,"e":0.007},{"s":"pk","t":101,"v":1.09,"e":0.007},{"s":"pk","t":105,"v":1.087,"e":0.007},{"s":"pk","t":109,"v":1.082,"e":0.007},{"s":"pk","t":113,"v":1.076,"e":0.007},{"s":"pk","t":117,"v":1.072,"e":0.007},{"s":"pk","t":121,"v":1.07,"e":0.007},{"s":"pk","t":125,"v":1.069,"e":0.007},{"s":"pk","t":129,"v":1.065,"e":0.007},{"s":"pk","t":133,"v":1.06,"e":0.007},{"s":"pk","t":136,"v":1.061,"e":0.007},{"s":"pk","t":140,"v":1.062,"e":0.007},{"s":"pk","t":145.6,"v":1.061,"e":0.007},{"s":"pk","t":150,"v":1.06,"e":0.007},{"s":"pk","t":155,"v":1.059,"e":0.007},{"s":"pk","t":160,"v":1.06,"e":0.007},{"s":"pk","t":165,"v":1.059,"e":0.007},{"s":"pk","t":170,"v":1.056,"e":0.007},{"s":"pk","t":173,"v":1.054,"e":0.007},{"s":"pk","t":177,"v":1.057,"e":0.007},{"s":"pk","t":180,"v":1.057,"e":0.007}
],
"N60":[
{"s":"bk","t":0,"v":1.005,"e":0.004},{"s":"bk","t":3,"v":1.002,"e":0.004},{"s":"bk","t":6,"v":0.998,"e":0.004},{"s":"bk","t":10,"v":0.997,"e":0.004},{"s":"bk","t":15,"v":0.999,"e":0.004},{"s":"bk","t":20,"v":0.999,"e":0.004},{"s":"bk","t":25,"v":1.0,"e":0.004},{"s":"bk","t":30,"v":1.002,"e":0.004},{"s":"bk","t":35,"v":1.003,"e":0.004},{"s":"bk","t":40,"v":1.005,"e":0.004},{"s":"bk","t":44,"v":1.011,"e":0.004},{"s":"bk","t":48,"v":1.009,"e":0.004},{"s":"bk","t":52,"v":1.004,"e":0.004},{"s":"bk","t":56,"v":1.002,"e":0.004},{"s":"bk","t":59,"v":1.004,"e":0.004},{"s":"bk","t":62.6,"v":1.0065,"e":0.004},{"s":"bk","t":67,"v":1.008,"e":0.004},{"s":"bk","t":72,"v":1.009,"e":0.004},{"s":"bk","t":77,"v":1.01,"e":0.004},{"s":"bk","t":81,"v":1.011,"e":0.004},{"s":"bk","t":85.4,"v":1.013,"e":0.004},{"s":"bk","t":89,"v":1.014,"e":0.004},{"s":"bk","t":93.5,"v":1.015,"e":0.004},{"s":"bk","t":97,"v":1.016,"e":0.004},{"s":"bk","t":101.7,"v":1.017,"e":0.004},{"s":"bk","t":106,"v":1.019,"e":0.005},{"s":"bk","t":110,"v":1.022,"e":0.005},{"s":"bk","t":114,"v":1.021,"e":0.005},{"s":"bk","t":118,"v":1.02,"e":0.005},{"s":"bk","t":122,"v":1.022,"e":0.005},{"s":"bk","t":126,"v":1.023,"e":0.005},{"s":"bk","t":130,"v":1.024,"e":0.005},{"s":"bk","t":134,"v":1.027,"e":0.005},{"s":"bk","t":138,"v":1.026,"e":0.005},{"s":"bk","t":142,"v":1.026,"e":0.005},{"s":"bk","t":146,"v":1.027,"e":0.005},{"s":"bk","t":150.5,"v":1.028,"e":0.005},{"s":"bk","t":155,"v":1.027,"e":0.005},{"s":"bk","t":160,"v":1.028,"e":0.005},{"s":"bk","t":166.7,"v":1.028,"e":0.005},{"s":"bk","t":172,"v":1.029,"e":0.005},{"s":"bk","t":176,"v":1.03,"e":0.005},{"s":"bk","t":180,"v":1.03,"e":0.005},
{"s":"cy","t":0,"v":1.002,"e":0.004},{"s":"cy","t":3,"v":0.999,"e":0.004},{"s":"cy","t":6,"v":0.997,"e":0.004},{"s":"cy","t":10,"v":0.997,"e":0.004},{"s":"cy","t":15,"v":0.999,"e":0.004},{"s":"cy","t":20,"v":1.0,"e":0.004},{"s":"cy","t":25,"v":1.001,"e":0.004},{"s":"cy","t":30,"v":1.002,"e":0.004},{"s":"cy","t":35,"v":1.003,"e":0.004},{"s":"cy","t":40,"v":1.004,"e":0.004},{"s":"cy","t":43,"v":1.005,"e":0.004},{"s":"cy","t":44,"v":1.01,"e":0.005},{"s":"cy","t":45,"v":1.08,"e":0.006},{"s":"cy","t":46.5,"v":1.17,"e":0.007},{"s":"cy","t":48.8,"v":1.2,"e":0.007},{"s":"cy","t":51,"v":1.195,"e":0.007},{"s":"cy","t":52.9,"v":1.187,"e":0.007},{"s":"cy","t":54.5,"v":1.176,"e":0.007},{"s":"cy","t":56,"v":1.165,"e":0.007},{"s":"cy","t":57.8,"v":1.15,"e":0.007},{"s":"cy","t":59.4,"v":1.135,"e":0.007},{"s":"cy","t":61,"v":1.122,"e":0.008},{"s":"cy","t":62.6,"v":1.109,"e":0.008},{"s":"cy","t":64.3,"v":1.1,"e":0.008},{"s":"cy","t":65.9,"v":1.093,"e":0.008},{"s":"cy","t":68.3,"v":1.087,"e":0.008},{"s":"cy","t":70,"v":1.093,"e":0.008},{"s":"cy","t":72.4,"v":1.102,"e":0.008},{"s":"cy","t":75.6,"v":1.113,"e":0.008},{"s":"cy","t":80,"v":1.112,"e":0.008},{"s":"cy","t":85.4,"v":1.112,"e":0.008},{"s":"cy","t":89,"v":1.111,"e":0.008},{"s":"cy","t":93.5,"v":1.112,"e":0.008},{"s":"cy","t":97.6,"v":1.114,"e":0.008},{"s":"cy","t":101.7,"v":1.117,"e":0.008},{"s":"cy","t":105,"v":1.115,"e":0.008},{"s":"cy","t":107.5,"v":1.108,"e":0.008},{"s":"cy","t":110,"v":1.1,"e":0.008},{"s":"cy","t":112,"v":1.093,"e":0.008},{"s":"cy","t":114.7,"v":1.087,"e":0.008},{"s":"cy","t":118,"v":1.084,"e":0.008},{"s":"cy","t":121,"v":1.083,"e":0.008},{"s":"cy","t":126,"v":1.083,"e":0.008},{"s":"cy","t":131,"v":1.085,"e":0.008},{"s":"cy","t":134,"v":1.08,"e":0.008},{"s":"cy","t":140,"v":1.079,"e":0.008},{"s":"cy","t":145,"v":1.078,"e":0.008},{"s":"cy","t":150.5,"v":1.078,"e":0.008},{"s":"cy","t":158.6,"v":1.078,"e":0.008},{"s":"cy","t":166.7,"v":1.077,"e":0.008},{"s":"cy","t":172,"v":1.075,"e":0.008},{"s":"cy","t":180,"v":1.073,"e":0.008},
{"s":"gr","t":0,"v":1.002,"e":0.004},{"s":"gr","t":3,"v":0.997,"e":0.004},{"s":"gr","t":6,"v":0.991,"e":0.004},{"s":"gr","t":9,"v":0.996,"e":0.004},{"s":"gr","t":12,"v":0.998,"e":0.004},{"s":"gr","t":15,"v":0.998,"e":0.004},{"s":"gr","t":20,"v":0.999,"e":0.004},{"s":"gr","t":25,"v":1.001,"e":0.004},{"s":"gr","t":30,"v":1.002,"e":0.004},{"s":"gr","t":35,"v":1.004,"e":0.004},{"s":"gr","t":40,"v":1.006,"e":0.004},{"s":"gr","t":43,"v":1.008,"e":0.004},{"s":"gr","t":44.7,"v":1.013,"e":0.005},{"s":"gr","t":46.4,"v":1.065,"e":0.007},{"s":"gr","t":48.8,"v":1.13,"e":0.008},{"s":"gr","t":51.2,"v":1.152,"e":0.008},{"s":"gr","t":52.8,"v":1.162,"e":0.008},{"s":"gr","t":54.5,"v":1.167,"e":0.008},{"s":"gr","t":56,"v":1.165,"e":0.008},{"s":"gr","t":57.8,"v":1.161,"e":0.008},{"s":"gr","t":60,"v":1.15,"e":0.008},{"s":"gr","t":62.6,"v":1.137,"e":0.008},{"s":"gr","t":65,"v":1.13,"e":0.008},{"s":"gr","t":67.5,"v":1.126,"e":0.008},{"s":"gr","t":70.8,"v":1.121,"e":0.008},{"s":"gr","t":74,"v":1.117,"e":0.008},{"s":"gr","t":78,"v":1.116,"e":0.008},{"s":"gr","t":82,"v":1.115,"e":0.008},{"s":"gr","t":88,"v":1.114,"e":0.008},{"s":"gr","t":93.5,"v":1.112,"e":0.008},{"s":"gr","t":98.4,"v":1.11,"e":0.008},{"s":"gr","t":101.7,"v":1.112,"e":0.008},{"s":"gr","t":105,"v":1.117,"e":0.008},{"s":"gr","t":107.5,"v":1.108,"e":0.008},{"s":"gr","t":110,"v":1.096,"e":0.008},{"s":"gr","t":113,"v":1.078,"e":0.008},{"s":"gr","t":116.3,"v":1.065,"e":0.007},{"s":"gr","t":121,"v":1.061,"e":0.007},{"s":"gr","t":124,"v":1.058,"e":0.007},{"s":"gr","t":127.7,"v":1.054,"e":0.007},{"s":"gr","t":131,"v":1.051,"e":0.007},{"s":"gr","t":134,"v":1.05,"e":0.007},{"s":"gr","t":138,"v":1.049,"e":0.007},{"s":"gr","t":142,"v":1.049,"e":0.007},{"s":"gr","t":146,"v":1.051,"e":0.007},{"s":"gr","t":149,"v":1.053,"e":0.007},{"s":"gr","t":152,"v":1.052,"e":0.007},{"s":"gr","t":155,"v":1.05,"e":0.007},{"s":"gr","t":158,"v":1.048,"e":0.007},{"s":"gr","t":162,"v":1.046,"e":0.007},{"s":"gr","t":166,"v":1.047,"e":0.007},{"s":"gr","t":170,"v":1.047,"e":0.007},{"s":"gr","t":175,"v":1.044,"e":0.007},{"s":"gr","t":180,"v":1.041,"e":0.007},
{"s":"pk","t":0,"v":1.001,"e":0.004},{"s":"pk","t":3,"v":0.998,"e":0.004},{"s":"pk","t":6,"v":0.997,"e":0.004},{"s":"pk","t":10,"v":0.998,"e":0.004},{"s":"pk","t":15,"v":1.0,"e":0.004},{"s":"pk","t":20,"v":1.0,"e":0.004},{"s":"pk","t":25,"v":1.001,"e":0.004},{"s":"pk","t":30,"v":1.002,"e":0.004},{"s":"pk","t":35,"v":1.003,"e":0.004},{"s":"pk","t":40,"v":1.005,"e":0.004},{"s":"pk","t":42,"v":1.007,"e":0.004},{"s":"pk","t":43.1,"v":1.01,"e":0.005},{"s":"pk","t":44,"v":1.1,"e":0.007},{"s":"pk","t":45.5,"v":1.18,"e":0.008},{"s":"pk","t":47.2,"v":1.204,"e":0.008},{"s":"pk","t":50,"v":1.197,"e":0.008},{"s":"pk","t":52.9,"v":1.189,"e":0.008},{"s":"pk","t":55,"v":1.176,"e":0.008},{"s":"pk","t":57,"v":1.162,"e":0.008},{"s":"pk","t":59.4,"v":1.148,"e":0.009},{"s":"pk","t":61,"v":1.14,"e":0.009},{"s":"pk","t":62.6,"v":1.135,"e":0.009},{"s":"pk","t":66,"v":1.134,"e":0.009},{"s":"pk","t":69,"v":1.136,"e":0.009},{"s":"pk","t":73,"v":1.135,"e":0.009},{"s":"pk","t":77,"v":1.135,"e":0.009},{"s":"pk","t":81,"v":1.131,"e":0.009},{"s":"pk","t":85.4,"v":1.13,"e":0.009},{"s":"pk","t":89,"v":1.132,"e":0.009},{"s":"pk","t":93.5,"v":1.133,"e":0.009},{"s":"pk","t":97.5,"v":1.131,"e":0.009},{"s":"pk","t":101.7,"v":1.128,"e":0.009},{"s":"pk","t":105,"v":1.122,"e":0.009},{"s":"pk","t":108,"v":1.113,"e":0.009},{"s":"pk","t":111.4,"v":1.1,"e":0.009},{"s":"pk","t":114.7,"v":1.089,"e":0.009},{"s":"pk","t":118,"v":1.088,"e":0.009},{"s":"pk","t":123,"v":1.086,"e":0.009},{"s":"pk","t":126,"v":1.096,"e":0.009},{"s":"pk","t":130,"v":1.1,"e":0.009},{"s":"pk","t":134,"v":1.101,"e":0.009},{"s":"pk","t":138,"v":1.1,"e":0.009},{"s":"pk","t":142,"v":1.1,"e":0.009},{"s":"pk","t":146,"v":1.099,"e":0.009},{"s":"pk","t":150.5,"v":1.099,"e":0.009},{"s":"pk","t":155,"v":1.1,"e":0.009},{"s":"pk","t":160,"v":1.098,"e":0.009},{"s":"pk","t":165,"v":1.097,"e":0.009},{"s":"pk","t":171.6,"v":1.096,"e":0.009},{"s":"pk","t":175,"v":1.092,"e":0.009},{"s":"pk","t":180,"v":1.093,"e":0.009}
],
"F3":[
{"s":"bk","t":0,"v":1.003,"e":0.004},{"s":"bk","t":3,"v":1.002,"e":0.004},{"s":"bk","t":6,"v":1.0,"e":0.004},{"s":"bk","t":10,"v":0.997,"e":0.004},{"s":"bk","t":13,"v":0.999,"e":0.004},{"s":"bk","t":17,"v":0.999,"e":0.004},{"s":"bk","t":20,"v":1.0,"e":0.004},{"s":"bk","t":25,"v":0.999,"e":0.004},{"s":"bk","t":30,"v":1.001,"e":0.004},{"s":"bk","t":35,"v":1.0,"e":0.004},{"s":"bk","t":40,"v":1.0,"e":0.004},{"s":"bk","t":42,"v":1.0,"e":0.004},{"s":"bk","t":44,"v":1.004,"e":0.005},{"s":"bk","t":46,"v":1.01,"e":0.005},{"s":"bk","t":47.6,"v":1.013,"e":0.005},{"s":"bk","t":50,"v":1.01,"e":0.005},{"s":"bk","t":53,"v":1.0065,"e":0.005},{"s":"bk","t":56,"v":1.007,"e":0.005},{"s":"bk","t":58.7,"v":1.0065,"e":0.005},{"s":"bk","t":61,"v":1.004,"e":0.005},{"s":"bk","t":63.3,"v":1.002,"e":0.005},{"s":"bk","t":66,"v":1.005,"e":0.005},{"s":"bk","t":68,"v":1.0087,"e":0.005},{"s":"bk","t":70,"v":1.007,"e":0.005},{"s":"bk","t":71.7,"v":1.004,"e":0.005},{"s":"bk","t":73.5,"v":1.008,"e":0.005},{"s":"bk","t":75.4,"v":1.011,"e":0.005},{"s":"bk","t":80,"v":1.01,"e":0.005},{"s":"bk","t":84,"v":1.011,"e":0.005},{"s":"bk","t":88.4,"v":1.011,"e":0.005},{"s":"bk","t":93,"v":1.012,"e":0.005},{"s":"bk","t":97.7,"v":1.014,"e":0.005},{"s":"bk","t":102,"v":1.013,"e":0.005},{"s":"bk","t":107,"v":1.015,"e":0.005},{"s":"bk","t":112,"v":1.016,"e":0.005},{"s":"bk","t":116,"v":1.017,"e":0.005},{"s":"bk","t":120,"v":1.018,"e":0.005},{"s":"bk","t":125.6,"v":1.022,"e":0.005},{"s":"bk","t":130,"v":1.021,"e":0.005},{"s":"bk","t":135,"v":1.021,"e":0.005},{"s":"bk","t":140,"v":1.022,"e":0.005},{"s":"bk","t":145,"v":1.022,"e":0.005},{"s":"bk","t":150,"v":1.023,"e":0.005},{"s":"bk","t":155,"v":1.022,"e":0.005},{"s":"bk","t":161,"v":1.025,"e":0.005},{"s":"bk","t":165,"v":1.026,"e":0.005},{"s":"bk","t":168,"v":1.03,"e":0.005},{"s":"bk","t":172,"v":1.028,"e":0.005},{"s":"bk","t":176,"v":1.027,"e":0.005},{"s":"bk","t":180,"v":1.027,"e":0.005},
{"s":"cy","t":0,"v":1.005,"e":0.004},{"s":"cy","t":3,"v":1.003,"e":0.004},{"s":"cy","t":6,"v":1.002,"e":0.004},{"s":"cy","t":10,"v":1.0,"e":0.004},{"s":"cy","t":15,"v":0.999,"e":0.004},{"s":"cy","t":20,"v":1.0,"e":0.004},{"s":"cy","t":25,"v":0.999,"e":0.004},{"s":"cy","t":30,"v":1.0,"e":0.004},{"s":"cy","t":35,"v":0.999,"e":0.004},{"s":"cy","t":38,"v":0.997,"e":0.004},{"s":"cy","t":40,"v":0.996,"e":0.004},{"s":"cy","t":42,"v":0.997,"e":0.004},{"s":"cy","t":43.5,"v":1.002,"e":0.005},{"s":"cy","t":45.7,"v":1.022,"e":0.007},{"s":"cy","t":47,"v":1.05,"e":0.009},{"s":"cy","t":48.5,"v":1.075,"e":0.01},{"s":"cy","t":50,"v":1.088,"e":0.01},{"s":"cy","t":51.3,"v":1.093,"e":0.01},{"s":"cy","t":53,"v":1.08,"e":0.009},{"s":"cy","t":54.5,"v":1.066,"e":0.008},{"s":"cy","t":56,"v":1.057,"e":0.008},{"s":"cy","t":58,"v":1.052,"e":0.007},{"s":"cy","t":60.6,"v":1.05,"e":0.007},{"s":"cy","t":63,"v":1.048,"e":0.007},{"s":"cy","t":66,"v":1.046,"e":0.007},{"s":"cy","t":70,"v":1.046,"e":0.007},{"s":"cy","t":73.6,"v":1.046,"e":0.007},{"s":"cy","t":76,"v":1.043,"e":0.007},{"s":"cy","t":79,"v":1.041,"e":0.007},{"s":"cy","t":80,"v":1.043,"e":0.007},{"s":"cy","t":83,"v":1.04,"e":0.007},{"s":"cy","t":86.6,"v":1.037,"e":0.007},{"s":"cy","t":92,"v":1.035,"e":0.007},{"s":"cy","t":97.7,"v":1.033,"e":0.007},{"s":"cy","t":102,"v":1.032,"e":0.007},{"s":"cy","t":107,"v":1.03,"e":0.007},{"s":"cy","t":111,"v":1.028,"e":0.007},{"s":"cy","t":114,"v":1.026,"e":0.007},{"s":"cy","t":116,"v":1.03,"e":0.007},{"s":"cy","t":120,"v":1.03,"e":0.007},{"s":"cy","t":125.6,"v":1.03,"e":0.007},{"s":"cy","t":130,"v":1.029,"e":0.007},{"s":"cy","t":135,"v":1.027,"e":0.007},{"s":"cy","t":142,"v":1.024,"e":0.007},{"s":"cy","t":145,"v":1.022,"e":0.007},{"s":"cy","t":148,"v":1.02,"e":0.007},{"s":"cy","t":153,"v":1.025,"e":0.007},{"s":"cy","t":158,"v":1.025,"e":0.007},{"s":"cy","t":163,"v":1.025,"e":0.007},{"s":"cy","t":168,"v":1.026,"e":0.007},{"s":"cy","t":172,"v":1.028,"e":0.007},{"s":"cy","t":176,"v":1.028,"e":0.007},{"s":"cy","t":180,"v":1.028,"e":0.007},
{"s":"gr","t":0,"v":1.006,"e":0.004},{"s":"gr","t":3,"v":1.003,"e":0.004},{"s":"gr","t":6,"v":1.002,"e":0.004},{"s":"gr","t":10,"v":1.0,"e":0.004},{"s":"gr","t":15,"v":0.999,"e":0.004},{"s":"gr","t":20,"v":1.0,"e":0.004},{"s":"gr","t":25,"v":0.999,"e":0.004},{"s":"gr","t":30,"v":1.0,"e":0.004},{"s":"gr","t":35,"v":1.0,"e":0.004},{"s":"gr","t":40,"v":1.0,"e":0.004},{"s":"gr","t":42,"v":1.0,"e":0.004},{"s":"gr","t":44,"v":1.003,"e":0.005},{"s":"gr","t":45.7,"v":1.017,"e":0.006},{"s":"gr","t":48,"v":1.04,"e":0.008},{"s":"gr","t":50,"v":1.06,"e":0.009},{"s":"gr","t":52.2,"v":1.072,"e":0.009},{"s":"gr","t":53.5,"v":1.066,"e":0.009},{"s":"gr","t":55,"v":1.057,"e":0.008},{"s":"gr","t":57,"v":1.045,"e":0.008},{"s":"gr","t":58.7,"v":1.035,"e":0.007},{"s":"gr","t":60.5,"v":1.027,"e":0.006},{"s":"gr","t":62.4,"v":1.02,"e":0.006},{"s":"gr","t":65,"v":1.018,"e":0.006},{"s":"gr","t":68,"v":1.0165,"e":0.006},{"s":"gr","t":73,"v":1.015,"e":0.006},{"s":"gr","t":79,"v":1.013,"e":0.006},{"s":"gr","t":84,"v":1.012,"e":0.006},{"s":"gr","t":88.4,"v":1.011,"e":0.006},{"s":"gr","t":93,"v":1.011,"e":0.006},{"s":"gr","t":97.7,"v":1.011,"e":0.006},{"s":"gr","t":102,"v":1.01,"e":0.006},{"s":"gr","t":107,"v":1.01,"e":0.006},{"s":"gr","t":112,"v":1.01,"e":0.006},{"s":"gr","t":116,"v":1.009,"e":0.006},{"s":"gr","t":120,"v":1.01,"e":0.006},{"s":"gr","t":125.6,"v":1.011,"e":0.006},{"s":"gr","t":130,"v":1.012,"e":0.006},{"s":"gr","t":135,"v":1.013,"e":0.006},{"s":"gr","t":140,"v":1.014,"e":0.006},{"s":"gr","t":146,"v":1.015,"e":0.006},{"s":"gr","t":153,"v":1.015,"e":0.006},{"s":"gr","t":160,"v":1.017,"e":0.006},{"s":"gr","t":166,"v":1.018,"e":0.006},{"s":"gr","t":173,"v":1.02,"e":0.006},{"s":"gr","t":180,"v":1.021,"e":0.006},
{"s":"pk","t":0,"v":1.004,"e":0.004},{"s":"pk","t":3,"v":1.003,"e":0.004},{"s":"pk","t":6,"v":1.002,"e":0.004},{"s":"pk","t":10,"v":1.0,"e":0.004},{"s":"pk","t":15,"v":0.999,"e":0.004},{"s":"pk","t":20,"v":1.0,"e":0.004},{"s":"pk","t":25,"v":0.998,"e":0.004},{"s":"pk","t":30,"v":1.0,"e":0.004},{"s":"pk","t":35,"v":1.0,"e":0.004},{"s":"pk","t":40,"v":1.0,"e":0.004},{"s":"pk","t":42,"v":1.0,"e":0.004},{"s":"pk","t":43.5,"v":1.003,"e":0.005},{"s":"pk","t":45.7,"v":1.022,"e":0.007},{"s":"pk","t":47,"v":1.05,"e":0.009},{"s":"pk","t":48.5,"v":1.078,"e":0.01},{"s":"pk","t":50,"v":1.088,"e":0.01},{"s":"pk","t":51,"v":1.091,"e":0.01},{"s":"pk","t":53,"v":1.075,"e":0.01},{"s":"pk","t":55,"v":1.061,"e":0.01},{"s":"pk","t":57,"v":1.045,"e":0.01},{"s":"pk","t":58.7,"v":1.039,"e":0.01},{"s":"pk","t":60.5,"v":1.043,"e":0.01},{"s":"pk","t":62.4,"v":1.048,"e":0.01},{"s":"pk","t":64,"v":1.054,"e":0.01},{"s":"pk","t":66,"v":1.059,"e":0.01},{"s":"pk","t":68,"v":1.063,"e":0.01},{"s":"pk","t":71.7,"v":1.067,"e":0.009},{"s":"pk","t":75,"v":1.066,"e":0.009},{"s":"pk","t":79,"v":1.065,"e":0.009},{"s":"pk","t":84,"v":1.065,"e":0.009},{"s":"pk","t":88.4,"v":1.064,"e":0.009},{"s":"pk","t":93,"v":1.062,"e":0.009},{"s":"pk","t":97.7,"v":1.061,"e":0.009},{"s":"pk","t":102,"v":1.06,"e":0.009},{"s":"pk","t":107,"v":1.061,"e":0.009},{"s":"pk","t":112,"v":1.059,"e":0.009},{"s":"pk","t":116,"v":1.057,"e":0.009},{"s":"pk","t":120,"v":1.055,"e":0.009},{"s":"pk","t":124,"v":1.052,"e":0.009},{"s":"pk","t":128,"v":1.054,"e":0.009},{"s":"pk","t":131,"v":1.056,"e":0.009},{"s":"pk","t":135,"v":1.055,"e":0.009},{"s":"pk","t":140,"v":1.054,"e":0.009},{"s":"pk","t":145,"v":1.052,"e":0.009},{"s":"pk","t":150,"v":1.051,"e":0.009},{"s":"pk","t":155,"v":1.05,"e":0.009},{"s":"pk","t":159,"v":1.049,"e":0.009},{"s":"pk","t":164,"v":1.05,"e":0.009},{"s":"pk","t":168,"v":1.051,"e":0.009},{"s":"pk","t":174,"v":1.05,"e":0.009},{"s":"pk","t":180,"v":1.052,"e":0.009}
],
"F10":[
{"s":"bk","t":0,"v":1.004,"e":0.004},{"s":"bk","t":3,"v":0.998,"e":0.004},{"s":"bk","t":7,"v":0.995,"e":0.004},{"s":"bk","t":11,"v":0.995,"e":0.004},{"s":"bk","t":15,"v":0.998,"e":0.004},{"s":"bk","t":19,"v":1.0,"e":0.004},{"s":"bk","t":22,"v":1.001,"e":0.004},{"s":"bk","t":26,"v":1.002,"e":0.004},{"s":"bk","t":30,"v":1.003,"e":0.004},{"s":"bk","t":34,"v":1.003,"e":0.004},{"s":"bk","t":38,"v":1.002,"e":0.004},{"s":"bk","t":42,"v":1.004,"e":0.004},{"s":"bk","t":45,"v":1.007,"e":0.005},{"s":"bk","t":48.2,"v":1.017,"e":0.006},{"s":"bk","t":50,"v":1.028,"e":0.007},{"s":"bk","t":51.5,"v":1.039,"e":0.007},{"s":"bk","t":53,"v":1.052,"e":0.007},{"s":"bk","t":54.5,"v":1.066,"e":0.007},{"s":"bk","t":56.3,"v":1.074,"e":0.007},{"s":"bk","t":58,"v":1.071,"e":0.007},{"s":"bk","t":59.6,"v":1.065,"e":0.007},{"s":"bk","t":61,"v":1.057,"e":0.007},{"s":"bk","t":62.8,"v":1.048,"e":0.007},{"s":"bk","t":64.4,"v":1.04,"e":0.007},{"s":"bk","t":66,"v":1.033,"e":0.007},{"s":"bk","t":68.5,"v":1.028,"e":0.007},{"s":"bk","t":71,"v":1.024,"e":0.007},{"s":"bk","t":74,"v":1.02,"e":0.007},{"s":"bk","t":77.4,"v":1.017,"e":0.007},{"s":"bk","t":80.7,"v":1.018,"e":0.007},{"s":"bk","t":84,"v":1.02,"e":0.007},{"s":"bk","t":87,"v":1.017,"e":0.007},{"s":"bk","t":90.4,"v":1.015,"e":0.007},{"s":"bk","t":93.5,"v":1.016,"e":0.007},{"s":"bk","t":97,"v":1.017,"e":0.007},{"s":"bk","t":101,"v":1.019,"e":0.007},{"s":"bk","t":105,"v":1.021,"e":0.007},{"s":"bk","t":109,"v":1.019,"e":0.007},{"s":"bk","t":113,"v":1.018,"e":0.007},{"s":"bk","t":117,"v":1.016,"e":0.007},{"s":"bk","t":121,"v":1.015,"e":0.007},{"s":"bk","t":125,"v":1.017,"e":0.007},{"s":"bk","t":129,"v":1.02,"e":0.007},{"s":"bk","t":133,"v":1.021,"e":0.007},{"s":"bk","t":137.5,"v":1.026,"e":0.007},{"s":"bk","t":142.4,"v":1.03,"e":0.007},{"s":"bk","t":145.6,"v":1.026,"e":0.007},{"s":"bk","t":150,"v":1.026,"e":0.007},{"s":"bk","t":153.7,"v":1.025,"e":0.007},{"s":"bk","t":158,"v":1.024,"e":0.007},{"s":"bk","t":162,"v":1.024,"e":0.007},{"s":"bk","t":165,"v":1.025,"e":0.007},{"s":"bk","t":168,"v":1.03,"e":0.007},{"s":"bk","t":172,"v":1.03,"e":0.007},{"s":"bk","t":176,"v":1.03,"e":0.007},{"s":"bk","t":180,"v":1.03,"e":0.007},
{"s":"cy","t":0,"v":1.005,"e":0.004},{"s":"cy","t":3,"v":1.0,"e":0.004},{"s":"cy","t":7,"v":0.995,"e":0.004},{"s":"cy","t":11,"v":0.996,"e":0.004},{"s":"cy","t":15,"v":0.998,"e":0.004},{"s":"cy","t":19,"v":0.999,"e":0.004},{"s":"cy","t":22,"v":1.0,"e":0.004},{"s":"cy","t":26,"v":1.001,"e":0.004},{"s":"cy","t":30,"v":1.002,"e":0.004},{"s":"cy","t":34,"v":1.002,"e":0.004},{"s":"cy","t":38,"v":1.002,"e":0.004},{"s":"cy","t":41.7,"v":1.004,"e":0.004},{"s":"cy","t":44,"v":1.015,"e":0.006},{"s":"cy","t":46,"v":1.04,"e":0.008},{"s":"cy","t":48,"v":1.085,"e":0.01},{"s":"cy","t":50.2,"v":1.122,"e":0.011},{"s":"cy","t":51.5,"v":1.11,"e":0.01},{"s":"cy","t":53.1,"v":1.091,"e":0.009},{"s":"cy","t":54.7,"v":1.08,"e":0.009},{"s":"cy","t":56.3,"v":1.07,"e":0.008},{"s":"cy","t":58,"v":1.059,"e":0.008},{"s":"cy","t":60.4,"v":1.048,"e":0.008},{"s":"cy","t":62.8,"v":1.061,"e":0.008},{"s":"cy","t":64.4,"v":1.073,"e":0.008},{"s":"cy","t":66,"v":1.083,"e":0.008},{"s":"cy","t":67.5,"v":1.088,"e":0.008},{"s":"cy","t":69.3,"v":1.09,"e":0.008},{"s":"cy","t":72,"v":1.091,"e":0.008},{"s":"cy","t":76,"v":1.09,"e":0.008},{"s":"cy","t":80.7,"v":1.089,"e":0.008},{"s":"cy","t":84,"v":1.089,"e":0.008},{"s":"cy","t":88.8,"v":1.089,"e":0.008},{"s":"cy","t":93,"v":1.086,"e":0.008},{"s":"cy","t":97,"v":1.083,"e":0.008},{"s":"cy","t":101,"v":1.082,"e":0.008},{"s":"cy","t":105,"v":1.08,"e":0.008},{"s":"cy","t":109,"v":1.078,"e":0.008},{"s":"cy","t":113,"v":1.076,"e":0.008},{"s":"cy","t":117,"v":1.075,"e":0.008},{"s":"cy","t":121,"v":1.074,"e":0.008},{"s":"cy","t":125,"v":1.073,"e":0.008},{"s":"cy","t":129,"v":1.072,"e":0.008},{"s":"cy","t":133,"v":1.071,"e":0.008},{"s":"cy","t":137.5,"v":1.07,"e":0.008},{"s":"cy","t":141,"v":1.071,"e":0.008},{"s":"cy","t":145.6,"v":1.07,"e":0.008},{"s":"cy","t":150,"v":1.068,"e":0.008},{"s":"cy","t":153.7,"v":1.067,"e":0.008},{"s":"cy","t":158,"v":1.067,"e":0.008},{"s":"cy","t":162,"v":1.067,"e":0.008},{"s":"cy","t":167,"v":1.066,"e":0.008},{"s":"cy","t":171.6,"v":1.065,"e":0.008},{"s":"cy","t":176,"v":1.064,"e":0.008},{"s":"cy","t":180,"v":1.064,"e":0.008},
{"s":"gr","t":0,"v":1.005,"e":0.004},{"s":"gr","t":3,"v":1.0,"e":0.004},{"s":"gr","t":7,"v":0.996,"e":0.004},{"s":"gr","t":11,"v":0.996,"e":0.004},{"s":"gr","t":13,"v":1.0,"e":0.004},{"s":"gr","t":15,"v":0.998,"e":0.004},{"s":"gr","t":19,"v":0.999,"e":0.004},{"s":"gr","t":22,"v":1.0,"e":0.004},{"s":"gr","t":26,"v":1.001,"e":0.004},{"s":"gr","t":30,"v":1.002,"e":0.004},{"s":"gr","t":34,"v":1.002,"e":0.004},{"s":"gr","t":38,"v":1.002,"e":0.004},{"s":"gr","t":43,"v":1.005,"e":0.004},{"s":"gr","t":45,"v":1.02,"e":0.006},{"s":"gr","t":47,"v":1.045,"e":0.008},{"s":"gr","t":49,"v":1.075,"e":0.009},{"s":"gr","t":50.5,"v":1.095,"e":0.009},{"s":"gr","t":52.3,"v":1.104,"e":0.009},{"s":"gr","t":54,"v":1.095,"e":0.009},{"s":"gr","t":56.3,"v":1.083,"e":0.008},{"s":"gr","t":58.5,"v":1.078,"e":0.008},{"s":"gr","t":61.2,"v":1.076,"e":0.008},{"s":"gr","t":64,"v":1.074,"e":0.008},{"s":"gr","t":67.7,"v":1.072,"e":0.008},{"s":"gr","t":71,"v":1.069,"e":0.008},{"s":"gr","t":74.2,"v":1.065,"e":0.008},{"s":"gr","t":77,"v":1.063,"e":0.008},{"s":"gr","t":80.7,"v":1.061,"e":0.008},{"s":"gr","t":85,"v":1.057,"e":0.008},{"s":"gr","t":88.8,"v":1.054,"e":0.008},{"s":"gr","t":93,"v":1.052,"e":0.008},{"s":"gr","t":97,"v":1.05,"e":0.008},{"s":"gr","t":101,"v":1.048,"e":0.008},{"s":"gr","t":105,"v":1.046,"e":0.008},{"s":"gr","t":109,"v":1.044,"e":0.008},{"s":"gr","t":113,"v":1.043,"e":0.008},{"s":"gr","t":117,"v":1.041,"e":0.008},{"s":"gr","t":121,"v":1.04,"e":0.008},{"s":"gr","t":125,"v":1.039,"e":0.008},{"s":"gr","t":129,"v":1.039,"e":0.008},{"s":"gr","t":133,"v":1.038,"e":0.008},{"s":"gr","t":137.5,"v":1.037,"e":0.008},{"s":"gr","t":141,"v":1.037,"e":0.008},{"s":"gr","t":145.6,"v":1.037,"e":0.008},{"s":"gr","t":150,"v":1.035,"e":0.008},{"s":"gr","t":154,"v":1.033,"e":0.008},{"s":"gr","t":157,"v":1.03,"e":0.008},{"s":"gr","t":161,"v":1.032,"e":0.008},{"s":"gr","t":165,"v":1.033,"e":0.008},{"s":"gr","t":170,"v":1.034,"e":0.008},{"s":"gr","t":175,"v":1.036,"e":0.008},{"s":"gr","t":180,"v":1.037,"e":0.008},
{"s":"pk","t":0,"v":1.008,"e":0.004},{"s":"pk","t":3,"v":1.002,"e":0.004},{"s":"pk","t":7,"v":0.997,"e":0.004},{"s":"pk","t":11,"v":0.996,"e":0.004},{"s":"pk","t":15,"v":0.998,"e":0.004},{"s":"pk","t":19,"v":0.999,"e":0.004},{"s":"pk","t":22,"v":1.0,"e":0.004},{"s":"pk","t":26,"v":0.999,"e":0.004},{"s":"pk","t":30,"v":1.001,"e":0.004},{"s":"pk","t":34,"v":1.002,"e":0.004},{"s":"pk","t":38,"v":1.001,"e":0.004},{"s":"pk","t":43,"v":1.005,"e":0.004},{"s":"pk","t":45,"v":1.02,"e":0.006},{"s":"pk","t":47,"v":1.05,"e":0.008},{"s":"pk","t":48.5,"v":1.075,"e":0.009},{"s":"pk","t":50.2,"v":1.085,"e":0.009},{"s":"pk","t":51.5,"v":1.075,"e":0.009},{"s":"pk","t":53.1,"v":1.057,"e":0.008},{"s":"pk","t":54.7,"v":1.042,"e":0.008},{"s":"pk","t":56.3,"v":1.03,"e":0.008},{"s":"pk","t":58,"v":1.027,"e":0.008},{"s":"pk","t":59.6,"v":1.028,"e":0.008},{"s":"pk","t":62,"v":1.032,"e":0.008},{"s":"pk","t":64.4,"v":1.037,"e":0.008},{"s":"pk","t":67,"v":1.043,"e":0.008},{"s":"pk","t":69.3,"v":1.048,"e":0.008},{"s":"pk","t":72,"v":1.053,"e":0.008},{"s":"pk","t":74.2,"v":1.057,"e":0.008},{"s":"pk","t":77,"v":1.055,"e":0.008},{"s":"pk","t":80.7,"v":1.054,"e":0.008},{"s":"pk","t":84,"v":1.055,"e":0.008},{"s":"pk","t":88.8,"v":1.057,"e":0.008},{"s":"pk","t":93,"v":1.058,"e":0.008},{"s":"pk","t":97,"v":1.059,"e":0.008},{"s":"pk","t":101,"v":1.06,"e":0.008},{"s":"pk","t":105,"v":1.061,"e":0.008},{"s":"pk","t":109,"v":1.061,"e":0.008},{"s":"pk","t":113,"v":1.062,"e":0.008},{"s":"pk","t":117,"v":1.063,"e":0.008},{"s":"pk","t":121,"v":1.064,"e":0.008},{"s":"pk","t":125,"v":1.062,"e":0.008},{"s":"pk","t":129,"v":1.061,"e":0.008},{"s":"pk","t":133,"v":1.061,"e":0.008},{"s":"pk","t":137.5,"v":1.061,"e":0.008},{"s":"pk","t":141,"v":1.061,"e":0.008},{"s":"pk","t":145.6,"v":1.062,"e":0.008},{"s":"pk","t":150,"v":1.062,"e":0.008},{"s":"pk","t":153.7,"v":1.063,"e":0.008},{"s":"pk","t":158,"v":1.062,"e":0.008},{"s":"pk","t":162,"v":1.062,"e":0.008},{"s":"pk","t":167,"v":1.063,"e":0.008},{"s":"pk","t":171.6,"v":1.063,"e":0.008},{"s":"pk","t":176,"v":1.066,"e":0.008},{"s":"pk","t":180,"v":1.07,"e":0.008}
],
"F60":[
{"s":"bk","t":0,"v":0.989,"e":0.004},{"s":"bk","t":5,"v":0.993,"e":0.004},{"s":"bk","t":10,"v":0.996,"e":0.004},{"s":"bk","t":15,"v":0.998,"e":0.004},{"s":"bk","t":20,"v":1.001,"e":0.004},{"s":"bk","t":25,"v":1.003,"e":0.004},{"s":"bk","t":30,"v":1.005,"e":0.004},{"s":"bk","t":35,"v":1.006,"e":0.004},{"s":"bk","t":40,"v":1.007,"e":0.004},{"s":"bk","t":43,"v":1.008,"e":0.004},{"s":"bk","t":44,"v":1.012,"e":0.005},{"s":"bk","t":49,"v":1.013,"e":0.005},{"s":"bk","t":50,"v":1.03,"e":0.007},{"s":"bk","t":51.2,"v":1.048,"e":0.008},{"s":"bk","t":52.8,"v":1.065,"e":0.008},{"s":"bk","t":54.5,"v":1.078,"e":0.008},{"s":"bk","t":57,"v":1.086,"e":0.008},{"s":"bk","t":59.4,"v":1.091,"e":0.008},{"s":"bk","t":61.5,"v":1.096,"e":0.008},{"s":"bk","t":63.4,"v":1.1,"e":0.008},{"s":"bk","t":66,"v":1.097,"e":0.008},{"s":"bk","t":69.1,"v":1.096,"e":0.008},{"s":"bk","t":73,"v":1.097,"e":0.008},{"s":"bk","t":77.3,"v":1.098,"e":0.008},{"s":"bk","t":81,"v":1.097,"e":0.008},{"s":"bk","t":85.4,"v":1.096,"e":0.008},{"s":"bk","t":88.7,"v":1.102,"e":0.008},{"s":"bk","t":91,"v":1.1,"e":0.008},{"s":"bk","t":93.5,"v":1.098,"e":0.008},{"s":"bk","t":96.8,"v":1.091,"e":0.008},{"s":"bk","t":101,"v":1.092,"e":0.008},{"s":"bk","t":105,"v":1.093,"e":0.008},{"s":"bk","t":107,"v":1.1,"e":0.008},{"s":"bk","t":109,"v":1.109,"e":0.008},{"s":"bk","t":111.4,"v":1.107,"e":0.008},{"s":"bk","t":113.5,"v":1.098,"e":0.008},{"s":"bk","t":116.3,"v":1.087,"e":0.008},{"s":"bk","t":119.5,"v":1.08,"e":0.008},{"s":"bk","t":123,"v":1.074,"e":0.008},{"s":"bk","t":127,"v":1.068,"e":0.008},{"s":"bk","t":131,"v":1.063,"e":0.008},{"s":"bk","t":135,"v":1.058,"e":0.008},{"s":"bk","t":139,"v":1.054,"e":0.008},{"s":"bk","t":143,"v":1.053,"e":0.008},{"s":"bk","t":147,"v":1.052,"e":0.008},{"s":"bk","t":151,"v":1.051,"e":0.008},{"s":"bk","t":155,"v":1.05,"e":0.008},{"s":"bk","t":157,"v":1.052,"e":0.008},{"s":"bk","t":160,"v":1.043,"e":0.008},{"s":"bk","t":163,"v":1.047,"e":0.008},{"s":"bk","t":166.7,"v":1.046,"e":0.008},{"s":"bk","t":170,"v":1.043,"e":0.008},{"s":"bk","t":175,"v":1.043,"e":0.008},{"s":"bk","t":180,"v":1.044,"e":0.008},
{"s":"cy","t":0,"v":0.996,"e":0.004},{"s":"cy","t":5,"v":0.997,"e":0.004},{"s":"cy","t":10,"v":0.998,"e":0.004},{"s":"cy","t":15,"v":0.999,"e":0.004},{"s":"cy","t":20,"v":1.001,"e":0.004},{"s":"cy","t":25,"v":1.003,"e":0.004},{"s":"cy","t":30,"v":1.005,"e":0.004},{"s":"cy","t":35,"v":1.005,"e":0.004},{"s":"cy","t":38,"v":1.002,"e":0.004},{"s":"cy","t":40,"v":1.003,"e":0.004},{"s":"cy","t":43,"v":1.008,"e":0.004},{"s":"cy","t":44,"v":1.01,"e":0.005},{"s":"cy","t":45.5,"v":1.05,"e":0.007},{"s":"cy","t":47,"v":1.11,"e":0.009},{"s":"cy","t":48.5,"v":1.15,"e":0.01},{"s":"cy","t":50.4,"v":1.161,"e":0.01},{"s":"cy","t":52,"v":1.148,"e":0.01},{"s":"cy","t":54.5,"v":1.122,"e":0.009},{"s":"cy","t":56,"v":1.105,"e":0.009},{"s":"cy","t":57.8,"v":1.091,"e":0.009},{"s":"cy","t":59.5,"v":1.078,"e":0.009},{"s":"cy","t":61,"v":1.07,"e":0.009},{"s":"cy","t":63.5,"v":1.066,"e":0.009},{"s":"cy","t":65.9,"v":1.065,"e":0.009},{"s":"cy","t":69,"v":1.066,"e":0.009},{"s":"cy","t":72.4,"v":1.067,"e":0.009},{"s":"cy","t":76,"v":1.07,"e":0.009},{"s":"cy","t":79,"v":1.072,"e":0.009},{"s":"cy","t":82,"v":1.074,"e":0.009},{"s":"cy","t":86,"v":1.076,"e":0.009},{"s":"cy","t":89.5,"v":1.077,"e":0.009},{"s":"cy","t":93.5,"v":1.077,"e":0.009},{"s":"cy","t":97.5,"v":1.077,"e":0.009},{"s":"cy","t":101.7,"v":1.078,"e":0.009},{"s":"cy","t":104,"v":1.081,"e":0.009},{"s":"cy","t":106.5,"v":1.085,"e":0.009},{"s":"cy","t":108.5,"v":1.092,"e":0.009},{"s":"cy","t":110,"v":1.1,"e":0.009},{"s":"cy","t":111.5,"v":1.111,"e":0.009},{"s":"cy","t":113,"v":1.122,"e":0.009},{"s":"cy","t":116.3,"v":1.126,"e":0.009},{"s":"cy","t":120,"v":1.124,"e":0.009},{"s":"cy","t":126,"v":1.125,"e":0.009},{"s":"cy","t":130,"v":1.126,"e":0.009},{"s":"cy","t":134,"v":1.127,"e":0.009},{"s":"cy","t":138,"v":1.125,"e":0.009},{"s":"cy","t":142,"v":1.123,"e":0.009},{"s":"cy","t":146,"v":1.122,"e":0.009},{"s":"cy","t":150.5,"v":1.121,"e":0.009},{"s":"cy","t":155,"v":1.122,"e":0.009},{"s":"cy","t":160,"v":1.122,"e":0.009},{"s":"cy","t":163,"v":1.121,"e":0.009},{"s":"cy","t":166.7,"v":1.12,"e":0.009},{"s":"cy","t":172,"v":1.119,"e":0.009},{"s":"cy","t":176,"v":1.12,"e":0.009},{"s":"cy","t":180,"v":1.12,"e":0.009},
{"s":"gr","t":0,"v":0.997,"e":0.004},{"s":"gr","t":5,"v":0.996,"e":0.004},{"s":"gr","t":10,"v":0.997,"e":0.004},{"s":"gr","t":15,"v":0.999,"e":0.004},{"s":"gr","t":20,"v":1.001,"e":0.004},{"s":"gr","t":25,"v":1.002,"e":0.004},{"s":"gr","t":30,"v":1.004,"e":0.004},{"s":"gr","t":35,"v":1.006,"e":0.004},{"s":"gr","t":40,"v":1.006,"e":0.004},{"s":"gr","t":43,"v":1.008,"e":0.004},{"s":"gr","t":44.5,"v":1.01,"e":0.005},{"s":"gr","t":46,"v":1.06,"e":0.008},{"s":"gr","t":47.5,"v":1.12,"e":0.009},{"s":"gr","t":48.8,"v":1.15,"e":0.01},{"s":"gr","t":50.5,"v":1.157,"e":0.01},{"s":"gr","t":52.5,"v":1.15,"e":0.01},{"s":"gr","t":54,"v":1.133,"e":0.009},{"s":"gr","t":56,"v":1.117,"e":0.009},{"s":"gr","t":58,"v":1.113,"e":0.009},{"s":"gr","t":61,"v":1.111,"e":0.009},{"s":"gr","t":65,"v":1.11,"e":0.009},{"s":"gr","t":69.1,"v":1.109,"e":0.009},{"s":"gr","t":73,"v":1.108,"e":0.009},{"s":"gr","t":77,"v":1.107,"e":0.009},{"s":"gr","t":81,"v":1.107,"e":0.009},{"s":"gr","t":85.4,"v":1.107,"e":0.009},{"s":"gr","t":89,"v":1.106,"e":0.009},{"s":"gr","t":93,"v":1.104,"e":0.009},{"s":"gr","t":96.8,"v":1.103,"e":0.009},{"s":"gr","t":101.7,"v":1.109,"e":0.009},{"s":"gr","t":105,"v":1.11,"e":0.009},{"s":"gr","t":108,"v":1.112,"e":0.009},{"s":"gr","t":110,"v":1.115,"e":0.009},{"s":"gr","t":112,"v":1.12,"e":0.009},{"s":"gr","t":113.9,"v":1.123,"e":0.009},{"s":"gr","t":116,"v":1.12,"e":0.009},{"s":"gr","t":118,"v":1.117,"e":0.009},{"s":"gr","t":122,"v":1.116,"e":0.009},{"s":"gr","t":126,"v":1.115,"e":0.009},{"s":"gr","t":130,"v":1.113,"e":0.009},{"s":"gr","t":134,"v":1.111,"e":0.009},{"s":"gr","t":138,"v":1.106,"e":0.009},{"s":"gr","t":142,"v":1.102,"e":0.009},{"s":"gr","t":146,"v":1.101,"e":0.009},{"s":"gr","t":150.5,"v":1.1,"e":0.009},{"s":"gr","t":155,"v":1.098,"e":0.009},{"s":"gr","t":160,"v":1.096,"e":0.009},{"s":"gr","t":165,"v":1.094,"e":0.009},{"s":"gr","t":170,"v":1.089,"e":0.009},{"s":"gr","t":175,"v":1.085,"e":0.009},{"s":"gr","t":178,"v":1.082,"e":0.009},{"s":"gr","t":180,"v":1.078,"e":0.009},
{"s":"pk","t":0,"v":0.995,"e":0.004},{"s":"pk","t":5,"v":0.995,"e":0.004},{"s":"pk","t":10,"v":0.997,"e":0.004},{"s":"pk","t":15,"v":0.999,"e":0.004},{"s":"pk","t":20,"v":1.0,"e":0.004},{"s":"pk","t":25,"v":1.002,"e":0.004},{"s":"pk","t":30,"v":1.005,"e":0.004},{"s":"pk","t":35,"v":1.006,"e":0.004},{"s":"pk","t":40,"v":1.006,"e":0.004},{"s":"pk","t":42,"v":1.006,"e":0.004},{"s":"pk","t":43.5,"v":1.01,"e":0.005},{"s":"pk","t":45,"v":1.07,"e":0.008},{"s":"pk","t":46.5,"v":1.125,"e":0.009},{"s":"pk","t":48,"v":1.148,"e":0.01},{"s":"pk","t":49.5,"v":1.14,"e":0.01},{"s":"pk","t":51.2,"v":1.122,"e":0.01},{"s":"pk","t":53,"v":1.1,"e":0.009},{"s":"pk","t":54.5,"v":1.083,"e":0.009},{"s":"pk","t":56,"v":1.06,"e":0.009},{"s":"pk","t":57.8,"v":1.039,"e":0.009},{"s":"pk","t":60,"v":1.03,"e":0.009},{"s":"pk","t":62.6,"v":1.028,"e":0.009},{"s":"pk","t":65,"v":1.028,"e":0.009},{"s":"pk","t":69.1,"v":1.03,"e":0.009},{"s":"pk","t":72,"v":1.031,"e":0.009},{"s":"pk","t":75.6,"v":1.035,"e":0.009},{"s":"pk","t":79,"v":1.037,"e":0.009},{"s":"pk","t":82,"v":1.041,"e":0.009},{"s":"pk","t":85.4,"v":1.043,"e":0.009},{"s":"pk","t":89,"v":1.045,"e":0.009},{"s":"pk","t":93.5,"v":1.048,"e":0.009},{"s":"pk","t":97.5,"v":1.049,"e":0.009},{"s":"pk","t":101.7,"v":1.05,"e":0.009},{"s":"pk","t":104,"v":1.051,"e":0.009},{"s":"pk","t":106.5,"v":1.052,"e":0.009},{"s":"pk","t":108,"v":1.06,"e":0.009},{"s":"pk","t":110,"v":1.078,"e":0.009},{"s":"pk","t":111.5,"v":1.096,"e":0.009},{"s":"pk","t":113,"v":1.113,"e":0.009},{"s":"pk","t":116.3,"v":1.123,"e":0.009},{"s":"pk","t":118,"v":1.12,"e":0.009},{"s":"pk","t":119.6,"v":1.115,"e":0.009},{"s":"pk","t":123,"v":1.11,"e":0.009},{"s":"pk","t":126,"v":1.107,"e":0.009},{"s":"pk","t":130,"v":1.109,"e":0.009},{"s":"pk","t":134,"v":1.111,"e":0.009},{"s":"pk","t":138,"v":1.107,"e":0.009},{"s":"pk","t":142,"v":1.102,"e":0.009},{"s":"pk","t":145,"v":1.099,"e":0.009},{"s":"pk","t":147,"v":1.098,"e":0.009},{"s":"pk","t":150,"v":1.102,"e":0.009},{"s":"pk","t":153.6,"v":1.109,"e":0.009},{"s":"pk","t":158,"v":1.11,"e":0.009},{"s":"pk","t":162,"v":1.11,"e":0.009},{"s":"pk","t":166.7,"v":1.11,"e":0.009},{"s":"pk","t":171,"v":1.111,"e":0.009},{"s":"pk","t":175,"v":1.108,"e":0.009},{"s":"pk","t":180,"v":1.106,"e":0.009}
]
},
"concat":[
{"width":407,"height":184,"data":{"name":"E3"},
"title":{"text":"A","dx":-161,"dy":46,"offset":4},
"layer":[
{"mark":{"type":"errorband","color":"#808080","opacity":0.5},"encoding":{"x":{"field":"t","type":"quantitative","scale":{"domain":[-9,189],"nice":false,"zero":false},"axis":{"orient":"top","offset":32,"ticks":false,"labels":false,"domainColor":"#000000","domainWidth":2,"title":"3' pulse","titleFontSize":22,"titleFontWeight":"bold","titlePadding":16,"titleX":198}},"y":{"field":"v","type":"quantitative","scale":{"domain":[0.9704,1.2109],"nice":false,"zero":false},"axis":{"orient":"left","offset":108,"ticks":false,"labels":false,"domainColor":"#000000","domainWidth":2,"title":"EGF","titleFontSize":23,"titleFontWeight":"bold","titlePadding":9,"titleY":77}},"yError":{"field":"e"},"detail":{"field":"s"}}},
{"data":{"values":[{"start":43.6,"end":46.6}]},"mark":{"type":"rect","color":"#4d4d4d"},"encoding":{"x":{"field":"start","type":"quantitative","axis":null},"x2":{"field":"end"},"y":{"datum":0.9704,"type":"quantitative","axis":null},"y2":{"datum":0.9913}}},
{"mark":{"type":"line","strokeWidth":2.5,"strokeJoin":"round"},"encoding":{"x":{"field":"t","type":"quantitative","scale":{"domain":[-9,189],"nice":false,"zero":false},"axis":{"orient":"bottom","values":[0,50,100,150],"title":null}},"y":{"field":"v","type":"quantitative","scale":{"domain":[0.9704,1.2109],"nice":false,"zero":false},"axis":{"orient":"left","values":[1,1.05,1.1,1.15,1.2],"format":".2f","title":null}},"color":{"field":"s","type":"nominal","scale":{"domain":["bk","cy","gr","pk"],"range":["#000000","#29b5e8","#9cc933","#ef63d8"]},"legend":null}}}
],
"resolve":{"axis":{"x":"independent","y":"independent"}}},
{"width":407,"height":184,"data":{"name":"E10"},
"layer":[
{"mark":{"type":"errorband","color":"#808080","opacity":0.5},"encoding":{"x":{"field":"t","type":"quantitative","scale":{"domain":[-9,189],"nice":false,"zero":false},"axis":{"orient":"top","offset":32,"ticks":false,"labels":false,"domainColor":"#000000","domainWidth":2,"title":"10' pulse","titleFontSize":22,"titleFontWeight":"bold","titlePadding":16,"titleX":220}},"y":{"field":"v","type":"quantitative","scale":{"domain":[0.9704,1.2109],"nice":false,"zero":false},"axis":null},"yError":{"field":"e"},"detail":{"field":"s"}}},
{"data":{"values":[{"start":43.6,"end":53.6}]},"mark":{"type":"rect","color":"#4d4d4d"},"encoding":{"x":{"field":"start","type":"quantitative","axis":null},"x2":{"field":"end"},"y":{"datum":0.9704,"type":"quantitative","axis":null},"y2":{"datum":0.9913}}},
{"mark":{"type":"line","strokeWidth":2.5,"strokeJoin":"round"},"encoding":{"x":{"field":"t","type":"quantitative","scale":{"domain":[-9,189],"nice":false,"zero":false},"axis":{"orient":"bottom","values":[0,50,100,150],"title":null}},"y":{"field":"v","type":"quantitative","scale":{"domain":[0.9704,1.2109],"nice":false,"zero":false},"axis":{"orient":"left","values":[1,1.05,1.1,1.15,1.2],"format":".2f","title":null}},"color":{"field":"s","type":"nominal","scale":{"domain":["bk","cy","gr","pk"],"range":["#000000","#29b5e8","#9cc933","#ef63d8"]},"legend":null}}}
],
"resolve":{"axis":{"x":"independent","y":"independent"}}},
{"width":407,"height":184,"data":{"name":"E60"},
"layer":[
{"mark":{"type":"errorband","color":"#808080","opacity":0.5},"encoding":{"x":{"field":"t","type":"quantitative","scale":{"domain":[-9,189],"nice":false,"zero":false},"axis":{"orient":"top","offset":32,"ticks":false,"labels":false,"domainColor":"#000000","domainWidth":2,"title":"60' pulse","titleFontSize":22,"titleFontWeight":"bold","titlePadding":16,"titleX":222}},"y":{"field":"v","type":"quantitative","scale":{"domain":[0.9704,1.2109],"nice":false,"zero":false},"axis":null},"yError":{"field":"e"},"detail":{"field":"s"}}},
{"data":{"values":[{"start":43.6,"end":103.6}]},"mark":{"type":"rect","color":"#4d4d4d"},"encoding":{"x":{"field":"start","type":"quantitative","axis":null},"x2":{"field":"end"},"y":{"datum":0.9704,"type":"quantitative","axis":null},"y2":{"datum":0.9913}}},
{"mark":{"type":"line","strokeWidth":2.5,"strokeJoin":"round"},"encoding":{"x":{"field":"t","type":"quantitative","scale":{"domain":[-9,189],"nice":false,"zero":false},"axis":{"orient":"bottom","values":[0,50,100,150],"title":null}},"y":{"field":"v","type":"quantitative","scale":{"domain":[0.9704,1.2109],"nice":false,"zero":false},"axis":{"orient":"left","values":[1,1.05,1.1,1.15,1.2],"format":".2f","title":null}},"color":{"field":"s","type":"nominal","scale":{"domain":["bk","cy","gr","pk"],"range":["#000000","#29b5e8","#9cc933","#ef63d8"]},"legend":null}}}
],
"resolve":{"axis":{"x":"independent","y":"independent"}}},
{"width":407,"height":184,"data":{"name":"N3"},
"title":{"text":"B","dx":-161,"offset":7},
"layer":[
{"mark":{"type":"errorband","color":"#808080","opacity":0.5},"encoding":{"x":{"field":"t","type":"quantitative","scale":{"domain":[-9,189],"nice":false,"zero":false},"axis":null},"y":{"field":"v","type":"quantitative","scale":{"domain":[0.9704,1.2109],"nice":false,"zero":false},"axis":{"orient":"left","offset":108,"ticks":false,"labels":false,"domainColor":"#000000","domainWidth":2,"title":"NGF","titleFontSize":23,"titleFontWeight":"bold","titlePadding":9,"titleY":90}},"yError":{"field":"e"},"detail":{"field":"s"}}},
{"data":{"values":[{"start":43.6,"end":46.6}]},"mark":{"type":"rect","color":"#4d4d4d"},"encoding":{"x":{"field":"start","type":"quantitative","axis":null},"x2":{"field":"end"},"y":{"datum":0.9704,"type":"quantitative","axis":null},"y2":{"datum":0.9913}}},
{"mark":{"type":"line","strokeWidth":2.5,"strokeJoin":"round"},"encoding":{"x":{"field":"t","type":"quantitative","scale":{"domain":[-9,189],"nice":false,"zero":false},"axis":{"orient":"bottom","values":[0,50,100,150],"title":null}},"y":{"field":"v","type":"quantitative","scale":{"domain":[0.9704,1.2109],"nice":false,"zero":false},"axis":{"orient":"left","values":[1,1.05,1.1,1.15,1.2],"format":".2f","title":"Fold change emission ratio","titlePadding":14,"titleY":107}},"color":{"field":"s","type":"nominal","scale":{"domain":["bk","cy","gr","pk"],"range":["#000000","#29b5e8","#9cc933","#ef63d8"]},"legend":null}}}
],
"resolve":{"axis":{"x":"independent","y":"independent"}}},
{"width":407,"height":184,"data":{"name":"N10"},
"layer":[
{"mark":{"type":"errorband","color":"#808080","opacity":0.5},"encoding":{"x":{"field":"t","type":"quantitative","scale":{"domain":[-9,189],"nice":false,"zero":false},"axis":null},"y":{"field":"v","type":"quantitative","scale":{"domain":[0.9704,1.2109],"nice":false,"zero":false},"axis":null},"yError":{"field":"e"},"detail":{"field":"s"}}},
{"data":{"values":[{"start":43.6,"end":53.6}]},"mark":{"type":"rect","color":"#4d4d4d"},"encoding":{"x":{"field":"start","type":"quantitative","axis":null},"x2":{"field":"end"},"y":{"datum":0.9704,"type":"quantitative","axis":null},"y2":{"datum":0.9913}}},
{"mark":{"type":"line","strokeWidth":2.5,"strokeJoin":"round"},"encoding":{"x":{"field":"t","type":"quantitative","scale":{"domain":[-9,189],"nice":false,"zero":false},"axis":{"orient":"bottom","values":[0,50,100,150],"title":null}},"y":{"field":"v","type":"quantitative","scale":{"domain":[0.9704,1.2109],"nice":false,"zero":false},"axis":{"orient":"left","values":[1,1.05,1.1,1.15,1.2],"format":".2f","title":null}},"color":{"field":"s","type":"nominal","scale":{"domain":["bk","cy","gr","pk"],"range":["#000000","#29b5e8","#9cc933","#ef63d8"]},"legend":null}}}
],
"resolve":{"axis":{"x":"independent","y":"independent"}}},
{"width":407,"height":184,"data":{"name":"N60"},
"layer":[
{"mark":{"type":"errorband","color":"#808080","opacity":0.5},"encoding":{"x":{"field":"t","type":"quantitative","scale":{"domain":[-9,189],"nice":false,"zero":false},"axis":null},"y":{"field":"v","type":"quantitative","scale":{"domain":[0.9704,1.2109],"nice":false,"zero":false},"axis":null},"yError":{"field":"e"},"detail":{"field":"s"}}},
{"data":{"values":[{"start":43.6,"end":103.6}]},"mark":{"type":"rect","color":"#4d4d4d"},"encoding":{"x":{"field":"start","type":"quantitative","axis":null},"x2":{"field":"end"},"y":{"datum":0.9704,"type":"quantitative","axis":null},"y2":{"datum":0.9913}}},
{"mark":{"type":"line","strokeWidth":2.5,"strokeJoin":"round"},"encoding":{"x":{"field":"t","type":"quantitative","scale":{"domain":[-9,189],"nice":false,"zero":false},"axis":{"orient":"bottom","values":[0,50,100,150],"title":null}},"y":{"field":"v","type":"quantitative","scale":{"domain":[0.9704,1.2109],"nice":false,"zero":false},"axis":{"orient":"left","values":[1,1.05,1.1,1.15,1.2],"format":".2f","title":null}},"color":{"field":"s","type":"nominal","scale":{"domain":["bk","cy","gr","pk"],"range":["#000000","#29b5e8","#9cc933","#ef63d8"]},"legend":null}}}
],
"resolve":{"axis":{"x":"independent","y":"independent"}}},
{"width":407,"height":184,"data":{"name":"F3"},
"title":{"text":"C","dx":-161,"offset":21},
"layer":[
{"mark":{"type":"errorband","color":"#808080","opacity":0.5},"encoding":{"x":{"field":"t","type":"quantitative","scale":{"domain":[-9,189],"nice":false,"zero":false},"axis":null},"y":{"field":"v","type":"quantitative","scale":{"domain":[0.9704,1.2109],"nice":false,"zero":false},"axis":{"orient":"left","offset":108,"ticks":false,"labels":false,"domainColor":"#000000","domainWidth":2,"title":"FGF2","titleFontSize":23,"titleFontWeight":"bold","titlePadding":9,"titleY":81}},"yError":{"field":"e"},"detail":{"field":"s"}}},
{"data":{"values":[{"start":43.6,"end":46.6}]},"mark":{"type":"rect","color":"#4d4d4d"},"encoding":{"x":{"field":"start","type":"quantitative","axis":null},"x2":{"field":"end"},"y":{"datum":0.9704,"type":"quantitative","axis":null},"y2":{"datum":0.9913}}},
{"mark":{"type":"line","strokeWidth":2.5,"strokeJoin":"round"},"encoding":{"x":{"field":"t","type":"quantitative","scale":{"domain":[-9,189],"nice":false,"zero":false},"axis":{"orient":"bottom","values":[0,50,100,150],"title":null}},"y":{"field":"v","type":"quantitative","scale":{"domain":[0.9704,1.2109],"nice":false,"zero":false},"axis":{"orient":"left","values":[1,1.05,1.1,1.15,1.2],"format":".2f","title":null}},"color":{"field":"s","type":"nominal","scale":{"domain":["bk","cy","gr","pk"],"range":["#000000","#29b5e8","#9cc933","#ef63d8"]},"legend":null}}}
],
"resolve":{"axis":{"x":"independent","y":"independent"}}},
{"width":407,"height":184,"data":{"name":"F10"},
"layer":[
{"mark":{"type":"errorband","color":"#808080","opacity":0.5},"encoding":{"x":{"field":"t","type":"quantitative","scale":{"domain":[-9,189],"nice":false,"zero":false},"axis":null},"y":{"field":"v","type":"quantitative","scale":{"domain":[0.9704,1.2109],"nice":false,"zero":false},"axis":null},"yError":{"field":"e"},"detail":{"field":"s"}}},
{"data":{"values":[{"start":43.6,"end":53.6}]},"mark":{"type":"rect","color":"#4d4d4d"},"encoding":{"x":{"field":"start","type":"quantitative","axis":null},"x2":{"field":"end"},"y":{"datum":0.9704,"type":"quantitative","axis":null},"y2":{"datum":0.9913}}},
{"mark":{"type":"line","strokeWidth":2.5,"strokeJoin":"round"},"encoding":{"x":{"field":"t","type":"quantitative","scale":{"domain":[-9,189],"nice":false,"zero":false},"axis":{"orient":"bottom","values":[0,50,100,150],"title":"Time (min)","titlePadding":18,"titleX":211}},"y":{"field":"v","type":"quantitative","scale":{"domain":[0.9704,1.2109],"nice":false,"zero":false},"axis":{"orient":"left","values":[1,1.05,1.1,1.15,1.2],"format":".2f","title":null}},"color":{"field":"s","type":"nominal","scale":{"domain":["bk","cy","gr","pk"],"range":["#000000","#29b5e8","#9cc933","#ef63d8"]},"legend":null}}}
],
"resolve":{"axis":{"x":"independent","y":"independent"}}},
{"width":407,"height":184,"data":{"name":"F60"},
"layer":[
{"mark":{"type":"errorband","color":"#808080","opacity":0.5},"encoding":{"x":{"field":"t","type":"quantitative","scale":{"domain":[-9,189],"nice":false,"zero":false},"axis":null},"y":{"field":"v","type":"quantitative","scale":{"domain":[0.9704,1.2109],"nice":false,"zero":false},"axis":null},"yError":{"field":"e"},"detail":{"field":"s"}}},
{"data":{"values":[{"start":43.6,"end":103.6}]},"mark":{"type":"rect","color":"#4d4d4d"},"encoding":{"x":{"field":"start","type":"quantitative","axis":null},"x2":{"field":"end"},"y":{"datum":0.9704,"type":"quantitative","axis":null},"y2":{"datum":0.9913}}},
{"mark":{"type":"line","strokeWidth":2.5,"strokeJoin":"round"},"encoding":{"x":{"field":"t","type":"quantitative","scale":{"domain":[-9,189],"nice":false,"zero":false},"axis":{"orient":"bottom","values":[0,50,100,150],"title":null}},"y":{"field":"v","type":"quantitative","scale":{"domain":[0.9704,1.2109],"nice":false,"zero":false},"axis":{"orient":"left","values":[1,1.05,1.1,1.15,1.2],"format":".2f","title":null}},"color":{"field":"s","type":"nominal","scale":{"domain":["bk","cy","gr","pk"],"range":["#000000","#29b5e8","#9cc933","#ef63d8"]},"legend":null}}}
],
"resolve":{"axis":{"x":"independent","y":"independent"}}}
],
"columns":3,
"bounds":"flush",
"spacing":{"row":39,"column":73}
}
